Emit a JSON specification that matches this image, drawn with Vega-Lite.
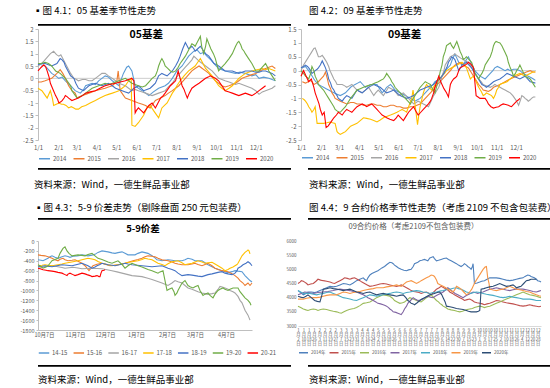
{
"$schema":"https://vega.github.io/schema/vega-lite/v6.json",
"padding":{"left":17,"top":5,"right":0,"bottom":0},
"background":"white",
"spacing":0,
"resolve":{"scale":{"x":"independent","y":"independent","color":"independent","strokeWidth":"independent"},"axis":{"x":"independent","y":"independent"},"legend":{"color":"independent"}},
"config":{"view":{"stroke":null},"font":"Noto Sans CJK SC","title":{"font":"Noto Sans CJK SC","color":"black","fontWeight":"normal"},"axis":{"labelFont":"Noto Sans CJK SC","labelOverlap":false,"labelFlush":false},"legend":{"labelFont":"Noto Sans CJK SC"}},
"datasets":{
"c1":[
{"s":"2014","d":0,"v":0.6},{"s":"2014","d":5,"v":0.55},{"s":"2014","d":11,"v":0.5},{"s":"2014","d":16,"v":0.35},{"s":"2014","d":21,"v":0.2},{"s":"2014","d":27,"v":0.1},{"s":"2014","d":32,"v":0},{"s":"2014","d":37,"v":0.05},{"s":"2014","d":42,"v":-0.1},{"s":"2014","d":50,"v":-0.3},{"s":"2014","d":57,"v":-0.5},{"s":"2014","d":65,"v":-0.6},{"s":"2014","d":70,"v":-0.45},{"s":"2014","d":73,"v":-0.3},{"s":"2014","d":83,"v":-0.2},{"s":"2014","d":88,"v":-0.25},{"s":"2014","d":93,"v":-0.1},{"s":"2014","d":98,"v":0},{"s":"2014","d":103,"v":0.1},{"s":"2014","d":108,"v":0.05},{"s":"2014","d":114,"v":-0.1},{"s":"2014","d":119,"v":-0.2},{"s":"2014","d":124,"v":-0.3},{"s":"2014","d":131,"v":0.2},{"s":"2014","d":136,"v":0.45},{"s":"2014","d":139,"v":0.5},{"s":"2014","d":144,"v":0.3},{"s":"2014","d":149,"v":-0.3},{"s":"2014","d":154,"v":-0.4},{"s":"2014","d":160,"v":-0.5},{"s":"2014","d":165,"v":-0.6},{"s":"2014","d":170,"v":-0.7},{"s":"2014","d":177,"v":-0.55},{"s":"2014","d":185,"v":-0.4},{"s":"2014","d":195,"v":-0.3},{"s":"2014","d":200,"v":-0.2},{"s":"2014","d":206,"v":0},{"s":"2014","d":213,"v":0.3},{"s":"2014","d":221,"v":0.5},{"s":"2014","d":226,"v":0.7},{"s":"2014","d":231,"v":0.9},{"s":"2014","d":239,"v":1.1},{"s":"2014","d":244,"v":1.15},{"s":"2014","d":249,"v":1.0},{"s":"2014","d":254,"v":1.05},{"s":"2014","d":259,"v":0.9},{"s":"2014","d":265,"v":0.75},{"s":"2014","d":270,"v":0.6},{"s":"2014","d":277,"v":0.4},{"s":"2014","d":282,"v":0.35},{"s":"2014","d":287,"v":0.3},{"s":"2014","d":295,"v":0.25},{"s":"2014","d":303,"v":0.2},{"s":"2014","d":310,"v":0.25},{"s":"2014","d":318,"v":0.2},{"s":"2014","d":328,"v":0.1},{"s":"2014","d":334,"v":0.15},{"s":"2014","d":339,"v":0},{"s":"2014","d":346,"v":0.05},{"s":"2014","d":354,"v":0},{"s":"2014","d":364,"v":-0.1},
{"s":"2015","d":0,"v":-0.15},{"s":"2015","d":5,"v":-0.15},{"s":"2015","d":11,"v":-0.1},{"s":"2015","d":16,"v":-0.05},{"s":"2015","d":21,"v":0},{"s":"2015","d":25,"v":0.1},{"s":"2015","d":29,"v":0.2},{"s":"2015","d":34,"v":0.35},{"s":"2015","d":38,"v":0.2},{"s":"2015","d":42,"v":0},{"s":"2015","d":47,"v":-0.3},{"s":"2015","d":52,"v":-0.5},{"s":"2015","d":57,"v":-0.6},{"s":"2015","d":60,"v":-0.8},{"s":"2015","d":64,"v":-0.75},{"s":"2015","d":68,"v":-0.7},{"s":"2015","d":73,"v":-0.65},{"s":"2015","d":78,"v":-0.6},{"s":"2015","d":83,"v":-0.55},{"s":"2015","d":88,"v":-0.5},{"s":"2015","d":95,"v":-0.45},{"s":"2015","d":103,"v":-0.4},{"s":"2015","d":108,"v":-0.35},{"s":"2015","d":114,"v":-0.3},{"s":"2015","d":118,"v":-0.2},{"s":"2015","d":121,"v":-0.1},{"s":"2015","d":123,"v":0.3},{"s":"2015","d":126,"v":-0.5},{"s":"2015","d":130,"v":-0.65},{"s":"2015","d":134,"v":-0.8},{"s":"2015","d":139,"v":-0.85},{"s":"2015","d":144,"v":-0.9},{"s":"2015","d":149,"v":-0.95},{"s":"2015","d":154,"v":-1.0},{"s":"2015","d":160,"v":-1.05},{"s":"2015","d":165,"v":-1.1},{"s":"2015","d":168,"v":-1.15},{"s":"2015","d":172,"v":-1.2},{"s":"2015","d":176,"v":-1.05},{"s":"2015","d":180,"v":-0.9},{"s":"2015","d":188,"v":-0.8},{"s":"2015","d":195,"v":-0.7},{"s":"2015","d":200,"v":-0.6},{"s":"2015","d":206,"v":-0.5},{"s":"2015","d":211,"v":-0.4},{"s":"2015","d":216,"v":-0.3},{"s":"2015","d":221,"v":-0.15},{"s":"2015","d":226,"v":0},{"s":"2015","d":231,"v":0.15},{"s":"2015","d":236,"v":0.3},{"s":"2015","d":241,"v":0.4},{"s":"2015","d":247,"v":0.5},{"s":"2015","d":252,"v":0.4},{"s":"2015","d":257,"v":0.3},{"s":"2015","d":262,"v":0.2},{"s":"2015","d":267,"v":0.05},{"s":"2015","d":272,"v":-0.1},{"s":"2015","d":277,"v":-0.2},{"s":"2015","d":282,"v":-0.3},{"s":"2015","d":287,"v":-0.35},{"s":"2015","d":293,"v":-0.3},{"s":"2015","d":298,"v":-0.25},{"s":"2015","d":303,"v":-0.2},{"s":"2015","d":308,"v":-0.1},{"s":"2015","d":313,"v":0},{"s":"2015","d":318,"v":0.05},{"s":"2015","d":323,"v":0.1},{"s":"2015","d":328,"v":0.15},{"s":"2015","d":334,"v":0.2},{"s":"2015","d":340,"v":0.3},{"s":"2015","d":349,"v":0.4},{"s":"2015","d":354,"v":0.45},{"s":"2015","d":359,"v":0.5},{"s":"2015","d":364,"v":0.4},
{"s":"2016","d":0,"v":0.5},{"s":"2016","d":5,"v":0.6},{"s":"2016","d":9,"v":0.7},{"s":"2016","d":14,"v":0.85},{"s":"2016","d":19,"v":1.0},{"s":"2016","d":24,"v":1.1},{"s":"2016","d":27,"v":1.0},{"s":"2016","d":29,"v":0.95},{"s":"2016","d":32,"v":0.9},{"s":"2016","d":35,"v":0.95},{"s":"2016","d":37,"v":0.85},{"s":"2016","d":42,"v":0.6},{"s":"2016","d":46,"v":0.4},{"s":"2016","d":50,"v":0.2},{"s":"2016","d":55,"v":0},{"s":"2016","d":59,"v":-0.05},{"s":"2016","d":62,"v":-0.1},{"s":"2016","d":68,"v":-0.05},{"s":"2016","d":73,"v":-0.05},{"s":"2016","d":78,"v":-0.1},{"s":"2016","d":83,"v":-0.1},{"s":"2016","d":88,"v":0},{"s":"2016","d":93,"v":0.1},{"s":"2016","d":98,"v":0.2},{"s":"2016","d":103,"v":0.2},{"s":"2016","d":108,"v":0.1},{"s":"2016","d":114,"v":0},{"s":"2016","d":119,"v":-0.1},{"s":"2016","d":124,"v":-0.2},{"s":"2016","d":129,"v":-0.25},{"s":"2016","d":134,"v":-0.3},{"s":"2016","d":139,"v":-0.4},{"s":"2016","d":144,"v":-0.5},{"s":"2016","d":149,"v":-0.45},{"s":"2016","d":154,"v":-0.5},{"s":"2016","d":160,"v":-0.55},{"s":"2016","d":165,"v":-0.6},{"s":"2016","d":170,"v":-0.65},{"s":"2016","d":175,"v":-0.7},{"s":"2016","d":180,"v":-0.65},{"s":"2016","d":185,"v":-0.6},{"s":"2016","d":190,"v":-0.55},{"s":"2016","d":195,"v":-0.5},{"s":"2016","d":200,"v":-0.35},{"s":"2016","d":206,"v":-0.2},{"s":"2016","d":211,"v":0},{"s":"2016","d":216,"v":0.15},{"s":"2016","d":221,"v":0.3},{"s":"2016","d":226,"v":0.45},{"s":"2016","d":231,"v":0.6},{"s":"2016","d":236,"v":0.75},{"s":"2016","d":239,"v":0.9},{"s":"2016","d":243,"v":0.8},{"s":"2016","d":247,"v":0.7},{"s":"2016","d":252,"v":0.6},{"s":"2016","d":257,"v":0.5},{"s":"2016","d":262,"v":0.4},{"s":"2016","d":267,"v":0.3},{"s":"2016","d":272,"v":0.15},{"s":"2016","d":277,"v":0},{"s":"2016","d":282,"v":-0.05},{"s":"2016","d":287,"v":-0.1},{"s":"2016","d":293,"v":-0.15},{"s":"2016","d":298,"v":-0.2},{"s":"2016","d":303,"v":-0.25},{"s":"2016","d":308,"v":-0.2},{"s":"2016","d":313,"v":-0.25},{"s":"2016","d":318,"v":-0.3},{"s":"2016","d":323,"v":-0.35},{"s":"2016","d":328,"v":-0.4},{"s":"2016","d":334,"v":-0.5},{"s":"2016","d":339,"v":-0.65},{"s":"2016","d":344,"v":-0.55},{"s":"2016","d":349,"v":-0.5},{"s":"2016","d":354,"v":-0.45},{"s":"2016","d":359,"v":-0.4},{"s":"2016","d":364,"v":-0.3},
{"s":"2017","d":0,"v":-0.4},{"s":"2017","d":6,"v":-0.5},{"s":"2017","d":10,"v":-0.65},{"s":"2017","d":14,"v":-0.8},{"s":"2017","d":19,"v":-0.5},{"s":"2017","d":22,"v":-0.8},{"s":"2017","d":24,"v":-1.1},{"s":"2017","d":28,"v":-1.05},{"s":"2017","d":32,"v":-1.0},{"s":"2017","d":36,"v":-1.05},{"s":"2017","d":39,"v":-1.05},{"s":"2017","d":43,"v":-1.1},{"s":"2017","d":47,"v":-1.2},{"s":"2017","d":51,"v":-1.15},{"s":"2017","d":55,"v":-1.2},{"s":"2017","d":58,"v":-1.25},{"s":"2017","d":62,"v":-1.25},{"s":"2017","d":67,"v":-1.15},{"s":"2017","d":73,"v":-1.1},{"s":"2017","d":80,"v":-1.0},{"s":"2017","d":88,"v":-0.9},{"s":"2017","d":95,"v":-0.8},{"s":"2017","d":103,"v":-0.7},{"s":"2017","d":108,"v":-0.65},{"s":"2017","d":114,"v":-0.6},{"s":"2017","d":119,"v":-0.55},{"s":"2017","d":124,"v":-0.5},{"s":"2017","d":129,"v":-0.4},{"s":"2017","d":134,"v":-0.3},{"s":"2017","d":139,"v":-0.1},{"s":"2017","d":143,"v":0},{"s":"2017","d":144,"v":-1.9},{"s":"2017","d":149,"v":-1.95},{"s":"2017","d":154,"v":-1.8},{"s":"2017","d":158,"v":-1.65},{"s":"2017","d":162,"v":-1.5},{"s":"2017","d":167,"v":-1.2},{"s":"2017","d":172,"v":-1.1},{"s":"2017","d":177,"v":-1.3},{"s":"2017","d":181,"v":-1.45},{"s":"2017","d":185,"v":-1.6},{"s":"2017","d":190,"v":-1.2},{"s":"2017","d":194,"v":-1.1},{"s":"2017","d":198,"v":-1.0},{"s":"2017","d":202,"v":-0.8},{"s":"2017","d":206,"v":-0.6},{"s":"2017","d":210,"v":-0.45},{"s":"2017","d":213,"v":-0.3},{"s":"2017","d":218,"v":-0.1},{"s":"2017","d":224,"v":0.1},{"s":"2017","d":231,"v":0.3},{"s":"2017","d":236,"v":0.4},{"s":"2017","d":241,"v":0.5},{"s":"2017","d":245,"v":0.65},{"s":"2017","d":249,"v":0.8},{"s":"2017","d":253,"v":0.6},{"s":"2017","d":257,"v":0.4},{"s":"2017","d":262,"v":0.25},{"s":"2017","d":267,"v":0.1},{"s":"2017","d":272,"v":-0.1},{"s":"2017","d":277,"v":-0.3},{"s":"2017","d":282,"v":-0.4},{"s":"2017","d":287,"v":-0.5},{"s":"2017","d":293,"v":-0.4},{"s":"2017","d":298,"v":-0.3},{"s":"2017","d":303,"v":-0.15},{"s":"2017","d":308,"v":0},{"s":"2017","d":313,"v":0.1},{"s":"2017","d":318,"v":0.2},{"s":"2017","d":323,"v":0.25},{"s":"2017","d":328,"v":0.3},{"s":"2017","d":336,"v":0.35},{"s":"2017","d":344,"v":0.4},{"s":"2017","d":349,"v":0.35},{"s":"2017","d":354,"v":0.4},{"s":"2017","d":359,"v":0.35},{"s":"2017","d":364,"v":0.3},
{"s":"2018","d":0,"v":0.55},{"s":"2018","d":5,"v":0.6},{"s":"2018","d":11,"v":0.6},{"s":"2018","d":16,"v":0.55},{"s":"2018","d":21,"v":0.5},{"s":"2018","d":25,"v":0.55},{"s":"2018","d":29,"v":0.6},{"s":"2018","d":34,"v":0.8},{"s":"2018","d":37,"v":0.75},{"s":"2018","d":40,"v":0.65},{"s":"2018","d":42,"v":0.5},{"s":"2018","d":46,"v":0.3},{"s":"2018","d":50,"v":0.1},{"s":"2018","d":55,"v":0},{"s":"2018","d":58,"v":-0.2},{"s":"2018","d":62,"v":-0.4},{"s":"2018","d":66,"v":-0.45},{"s":"2018","d":70,"v":-0.5},{"s":"2018","d":74,"v":-0.4},{"s":"2018","d":78,"v":-0.3},{"s":"2018","d":83,"v":-0.25},{"s":"2018","d":88,"v":-0.2},{"s":"2018","d":93,"v":-0.25},{"s":"2018","d":98,"v":-0.3},{"s":"2018","d":103,"v":-0.25},{"s":"2018","d":108,"v":-0.2},{"s":"2018","d":114,"v":-0.3},{"s":"2018","d":119,"v":-0.4},{"s":"2018","d":124,"v":-0.45},{"s":"2018","d":129,"v":-0.5},{"s":"2018","d":134,"v":-0.55},{"s":"2018","d":139,"v":-0.6},{"s":"2018","d":143,"v":-0.5},{"s":"2018","d":147,"v":-0.4},{"s":"2018","d":151,"v":-0.35},{"s":"2018","d":154,"v":-0.3},{"s":"2018","d":158,"v":-0.4},{"s":"2018","d":162,"v":-0.5},{"s":"2018","d":167,"v":-0.45},{"s":"2018","d":172,"v":-0.4},{"s":"2018","d":176,"v":-0.3},{"s":"2018","d":180,"v":-0.2},{"s":"2018","d":185,"v":0.1},{"s":"2018","d":190,"v":0.2},{"s":"2018","d":194,"v":0.15},{"s":"2018","d":198,"v":0.1},{"s":"2018","d":202,"v":0.2},{"s":"2018","d":206,"v":0.3},{"s":"2018","d":211,"v":0.5},{"s":"2018","d":215,"v":0.7},{"s":"2018","d":218,"v":0.9},{"s":"2018","d":222,"v":1.2},{"s":"2018","d":226,"v":1.45},{"s":"2018","d":229,"v":1.3},{"s":"2018","d":231,"v":1.2},{"s":"2018","d":234,"v":1.25},{"s":"2018","d":236,"v":1.3},{"s":"2018","d":239,"v":1.2},{"s":"2018","d":241,"v":1.1},{"s":"2018","d":245,"v":1.2},{"s":"2018","d":249,"v":1.3},{"s":"2018","d":253,"v":1.15},{"s":"2018","d":257,"v":1.0},{"s":"2018","d":262,"v":0.9},{"s":"2018","d":266,"v":0.75},{"s":"2018","d":270,"v":0.6},{"s":"2018","d":274,"v":0.55},{"s":"2018","d":277,"v":0.5},{"s":"2018","d":282,"v":0.4},{"s":"2018","d":287,"v":0.3},{"s":"2018","d":293,"v":0.3},{"s":"2018","d":298,"v":0.3},{"s":"2018","d":303,"v":0.25},{"s":"2018","d":308,"v":0.2},{"s":"2018","d":313,"v":0.25},{"s":"2018","d":318,"v":0.3},{"s":"2018","d":323,"v":0.3},{"s":"2018","d":328,"v":0.3},{"s":"2018","d":334,"v":0.25},{"s":"2018","d":339,"v":0.25},{"s":"2018","d":344,"v":0.3},{"s":"2018","d":349,"v":0.3},{"s":"2018","d":354,"v":0.25},{"s":"2018","d":359,"v":0.2},{"s":"2018","d":364,"v":0.1},
{"s":"2019","d":0,"v":0.6},{"s":"2019","d":5,"v":0.6},{"s":"2019","d":11,"v":0.65},{"s":"2019","d":16,"v":0.6},{"s":"2019","d":21,"v":0.5},{"s":"2019","d":24,"v":0.4},{"s":"2019","d":27,"v":0.3},{"s":"2019","d":31,"v":0.25},{"s":"2019","d":34,"v":0.2},{"s":"2019","d":38,"v":0.1},{"s":"2019","d":42,"v":0},{"s":"2019","d":46,"v":-0.15},{"s":"2019","d":50,"v":-0.3},{"s":"2019","d":52,"v":-0.5},{"s":"2019","d":56,"v":-0.65},{"s":"2019","d":60,"v":-0.8},{"s":"2019","d":64,"v":-0.75},{"s":"2019","d":68,"v":-0.7},{"s":"2019","d":73,"v":-0.6},{"s":"2019","d":78,"v":-0.5},{"s":"2019","d":83,"v":-0.4},{"s":"2019","d":88,"v":-0.35},{"s":"2019","d":93,"v":-0.3},{"s":"2019","d":98,"v":-0.25},{"s":"2019","d":103,"v":-0.2},{"s":"2019","d":108,"v":-0.25},{"s":"2019","d":114,"v":-0.2},{"s":"2019","d":119,"v":-0.15},{"s":"2019","d":124,"v":-0.1},{"s":"2019","d":129,"v":-0.05},{"s":"2019","d":134,"v":0},{"s":"2019","d":139,"v":-0.1},{"s":"2019","d":144,"v":-0.2},{"s":"2019","d":149,"v":-0.25},{"s":"2019","d":154,"v":-0.3},{"s":"2019","d":160,"v":-0.35},{"s":"2019","d":165,"v":-0.3},{"s":"2019","d":170,"v":-0.15},{"s":"2019","d":175,"v":0},{"s":"2019","d":180,"v":0.1},{"s":"2019","d":183,"v":0.3},{"s":"2019","d":185,"v":0.5},{"s":"2019","d":188,"v":0.7},{"s":"2019","d":190,"v":0.8},{"s":"2019","d":193,"v":0.65},{"s":"2019","d":195,"v":0.5},{"s":"2019","d":199,"v":0.4},{"s":"2019","d":203,"v":0.3},{"s":"2019","d":207,"v":0.25},{"s":"2019","d":211,"v":0.3},{"s":"2019","d":215,"v":0.45},{"s":"2019","d":218,"v":0.6},{"s":"2019","d":222,"v":0.75},{"s":"2019","d":226,"v":0.9},{"s":"2019","d":231,"v":1.15},{"s":"2019","d":236,"v":1.4},{"s":"2019","d":239,"v":1.35},{"s":"2019","d":241,"v":1.3},{"s":"2019","d":245,"v":1.5},{"s":"2019","d":249,"v":1.7},{"s":"2019","d":251,"v":1.3},{"s":"2019","d":254,"v":1.0},{"s":"2019","d":257,"v":1.3},{"s":"2019","d":259,"v":1.6},{"s":"2019","d":262,"v":1.4},{"s":"2019","d":265,"v":1.2},{"s":"2019","d":269,"v":1.0},{"s":"2019","d":272,"v":0.8},{"s":"2019","d":275,"v":0.5},{"s":"2019","d":277,"v":0.3},{"s":"2019","d":282,"v":0.45},{"s":"2019","d":287,"v":0.6},{"s":"2019","d":293,"v":0.8},{"s":"2019","d":298,"v":1.0},{"s":"2019","d":303,"v":1.3},{"s":"2019","d":306,"v":1.45},{"s":"2019","d":308,"v":1.5},{"s":"2019","d":311,"v":1.35},{"s":"2019","d":313,"v":1.2},{"s":"2019","d":316,"v":1.1},{"s":"2019","d":318,"v":1.0},{"s":"2019","d":323,"v":0.8},{"s":"2019","d":328,"v":0.6},{"s":"2019","d":331,"v":0.45},{"s":"2019","d":334,"v":0.3},{"s":"2019","d":339,"v":0.3},{"s":"2019","d":344,"v":0.45},{"s":"2019","d":349,"v":0.6},{"s":"2019","d":352,"v":0.45},{"s":"2019","d":354,"v":0.3},{"s":"2019","d":359,"v":0.1},{"s":"2019","d":364,"v":-0.1},
{"s":"2020","d":0,"v":0.3},{"s":"2020","d":5,"v":0.45},{"s":"2020","d":9,"v":0.55},{"s":"2020","d":12,"v":0.45},{"s":"2020","d":14,"v":0.3},{"s":"2020","d":17,"v":0.05},{"s":"2020","d":19,"v":-0.2},{"s":"2020","d":23,"v":-0.45},{"s":"2020","d":27,"v":-0.7},{"s":"2020","d":30,"v":-0.85},{"s":"2020","d":32,"v":-1.0},{"s":"2020","d":35,"v":-0.95},{"s":"2020","d":37,"v":-0.9},{"s":"2020","d":40,"v":-0.8},{"s":"2020","d":42,"v":-0.7},{"s":"2020","d":45,"v":-0.75},{"s":"2020","d":47,"v":-0.8},{"s":"2020","d":52,"v":-0.9},{"s":"2020","d":57,"v":-0.85},{"s":"2020","d":62,"v":-0.8},{"s":"2020","d":68,"v":-0.7},{"s":"2020","d":73,"v":-0.6},{"s":"2020","d":80,"v":-0.55},{"s":"2020","d":88,"v":-0.5},{"s":"2020","d":95,"v":-0.4},{"s":"2020","d":103,"v":-0.3},{"s":"2020","d":110,"v":-0.25},{"s":"2020","d":119,"v":-0.2},{"s":"2020","d":126,"v":-0.15},{"s":"2020","d":134,"v":-0.1},{"s":"2020","d":139,"v":-0.05},{"s":"2020","d":144,"v":0},{"s":"2020","d":147,"v":-0.1},{"s":"2020","d":149,"v":-1.4},{"s":"2020","d":151,"v":-1.3},{"s":"2020","d":154,"v":-1.2},{"s":"2020","d":158,"v":-1.3},{"s":"2020","d":162,"v":-1.4},{"s":"2020","d":166,"v":-1.25},{"s":"2020","d":170,"v":-1.1},{"s":"2020","d":175,"v":-1.0},{"s":"2020","d":180,"v":-1.2},{"s":"2020","d":184,"v":-1.0},{"s":"2020","d":188,"v":-0.8},{"s":"2020","d":192,"v":-0.7},{"s":"2020","d":195,"v":-0.6},{"s":"2020","d":199,"v":-0.45},{"s":"2020","d":203,"v":-0.3},{"s":"2020","d":207,"v":-0.2},{"s":"2020","d":211,"v":-0.1},{"s":"2020","d":215,"v":0.3},{"s":"2020","d":218,"v":0},{"s":"2020","d":221,"v":-0.3},{"s":"2020","d":224,"v":-0.45},{"s":"2020","d":226,"v":-0.6},{"s":"2020","d":229,"v":-0.8},{"s":"2020","d":232,"v":-0.6},{"s":"2020","d":236,"v":-0.4},{"s":"2020","d":241,"v":-0.3},{"s":"2020","d":247,"v":-0.2},{"s":"2020","d":252,"v":-0.1},{"s":"2020","d":257,"v":0},{"s":"2020","d":261,"v":0.05},{"s":"2020","d":264,"v":0.1},{"s":"2020","d":268,"v":0.05},{"s":"2020","d":272,"v":0},{"s":"2020","d":277,"v":-0.1},{"s":"2020","d":282,"v":-0.3},{"s":"2020","d":287,"v":-0.5},{"s":"2020","d":293,"v":-0.55},{"s":"2020","d":298,"v":-0.6},{"s":"2020","d":303,"v":-0.65},{"s":"2020","d":308,"v":-0.7},{"s":"2020","d":313,"v":-0.65},{"s":"2020","d":318,"v":-0.6},{"s":"2020","d":323,"v":-0.65},{"s":"2020","d":328,"v":-0.7},{"s":"2020","d":334,"v":-0.6},{"s":"2020","d":339,"v":-0.5},{"s":"2020","d":344,"v":-0.4},{"s":"2020","d":349,"v":-0.3}
],
"c2":[
{"s":"2014","d":0,"v":0.1},{"s":"2014","d":4,"v":0.12},{"s":"2014","d":7,"v":0.15},{"s":"2014","d":10,"v":0.05},{"s":"2014","d":12,"v":0},{"s":"2014","d":16,"v":-0.15},{"s":"2014","d":20,"v":-0.3},{"s":"2014","d":23,"v":-0.4},{"s":"2014","d":27,"v":-0.5},{"s":"2014","d":31,"v":-0.55},{"s":"2014","d":35,"v":-0.6},{"s":"2014","d":39,"v":-0.65},{"s":"2014","d":43,"v":-0.7},{"s":"2014","d":47,"v":-0.75},{"s":"2014","d":51,"v":-0.8},{"s":"2014","d":56,"v":-0.85},{"s":"2014","d":61,"v":-0.9},{"s":"2014","d":65,"v":-0.85},{"s":"2014","d":69,"v":-0.8},{"s":"2014","d":73,"v":-0.7},{"s":"2014","d":77,"v":-0.6},{"s":"2014","d":80,"v":-0.55},{"s":"2014","d":84,"v":-0.5},{"s":"2014","d":88,"v":-0.45},{"s":"2014","d":92,"v":-0.4},{"s":"2014","d":96,"v":-0.5},{"s":"2014","d":100,"v":-0.6},{"s":"2014","d":104,"v":-0.55},{"s":"2014","d":108,"v":-0.5},{"s":"2014","d":113,"v":-0.5},{"s":"2014","d":118,"v":-0.5},{"s":"2014","d":122,"v":-0.65},{"s":"2014","d":126,"v":-0.8},{"s":"2014","d":130,"v":-0.7},{"s":"2014","d":133,"v":-0.6},{"s":"2014","d":136,"v":-0.55},{"s":"2014","d":139,"v":-0.5},{"s":"2014","d":143,"v":-0.6},{"s":"2014","d":146,"v":-0.7},{"s":"2014","d":150,"v":-0.75},{"s":"2014","d":154,"v":-0.8},{"s":"2014","d":158,"v":-0.85},{"s":"2014","d":162,"v":-0.9},{"s":"2014","d":166,"v":-0.95},{"s":"2014","d":170,"v":-1.0},{"s":"2014","d":174,"v":-1.05},{"s":"2014","d":177,"v":-1.1},{"s":"2014","d":181,"v":-1.05},{"s":"2014","d":185,"v":-1.0},{"s":"2014","d":189,"v":-0.9},{"s":"2014","d":193,"v":-0.8},{"s":"2014","d":197,"v":-0.7},{"s":"2014","d":201,"v":-0.6},{"s":"2014","d":205,"v":-0.5},{"s":"2014","d":208,"v":-0.4},{"s":"2014","d":212,"v":-0.35},{"s":"2014","d":216,"v":-0.3},{"s":"2014","d":220,"v":-0.15},{"s":"2014","d":224,"v":0},{"s":"2014","d":228,"v":0.1},{"s":"2014","d":232,"v":0.2},{"s":"2014","d":235,"v":0.4},{"s":"2014","d":237,"v":0.5},{"s":"2014","d":239,"v":0.6},{"s":"2014","d":242,"v":0.45},{"s":"2014","d":245,"v":0.3},{"s":"2014","d":248,"v":0.25},{"s":"2014","d":250,"v":0.2},{"s":"2014","d":254,"v":0.3},{"s":"2014","d":257,"v":0.4},{"s":"2014","d":260,"v":0.5},{"s":"2014","d":263,"v":0.35},{"s":"2014","d":265,"v":0.2},{"s":"2014","d":268,"v":0.1},{"s":"2014","d":270,"v":0},{"s":"2014","d":274,"v":-0.1},{"s":"2014","d":278,"v":-0.2},{"s":"2014","d":282,"v":-0.25},{"s":"2014","d":286,"v":-0.3},{"s":"2014","d":290,"v":-0.2},{"s":"2014","d":294,"v":-0.1},{"s":"2014","d":298,"v":0},{"s":"2014","d":301,"v":0.1},{"s":"2014","d":305,"v":0.15},{"s":"2014","d":309,"v":0.1},{"s":"2014","d":313,"v":0.05},{"s":"2014","d":317,"v":0},{"s":"2014","d":321,"v":0.05},{"s":"2014","d":325,"v":0},{"s":"2014","d":330,"v":0.05},{"s":"2014","d":335,"v":0.05},{"s":"2014","d":340,"v":0},{"s":"2014","d":345,"v":-0.1},{"s":"2014","d":349,"v":-0.15},{"s":"2014","d":353,"v":-0.2},{"s":"2014","d":357,"v":-0.25},{"s":"2014","d":361,"v":-0.3},{"s":"2014","d":364,"v":-0.35},
{"s":"2015","d":2,"v":-0.4},{"s":"2015","d":7,"v":-0.45},{"s":"2015","d":11,"v":-0.4},{"s":"2015","d":14,"v":-0.35},{"s":"2015","d":17,"v":-0.4},{"s":"2015","d":20,"v":-0.5},{"s":"2015","d":24,"v":-0.45},{"s":"2015","d":27,"v":-0.4},{"s":"2015","d":31,"v":-0.3},{"s":"2015","d":35,"v":-0.2},{"s":"2015","d":38,"v":-0.05},{"s":"2015","d":41,"v":-0.3},{"s":"2015","d":43,"v":-0.5},{"s":"2015","d":46,"v":-0.65},{"s":"2015","d":48,"v":-0.8},{"s":"2015","d":51,"v":-0.9},{"s":"2015","d":53,"v":-1.0},{"s":"2015","d":57,"v":-1.05},{"s":"2015","d":61,"v":-1.1},{"s":"2015","d":66,"v":-1.15},{"s":"2015","d":71,"v":-1.2},{"s":"2015","d":77,"v":-1.15},{"s":"2015","d":82,"v":-1.15},{"s":"2015","d":87,"v":-1.2},{"s":"2015","d":92,"v":-1.2},{"s":"2015","d":97,"v":-1.25},{"s":"2015","d":102,"v":-1.25},{"s":"2015","d":108,"v":-1.2},{"s":"2015","d":113,"v":-1.2},{"s":"2015","d":118,"v":-1.25},{"s":"2015","d":123,"v":-1.25},{"s":"2015","d":128,"v":-1.3},{"s":"2015","d":133,"v":-1.3},{"s":"2015","d":139,"v":-1.25},{"s":"2015","d":144,"v":-1.25},{"s":"2015","d":149,"v":-1.3},{"s":"2015","d":154,"v":-1.3},{"s":"2015","d":159,"v":-1.35},{"s":"2015","d":164,"v":-1.35},{"s":"2015","d":170,"v":-1.3},{"s":"2015","d":175,"v":-1.3},{"s":"2015","d":180,"v":-1.25},{"s":"2015","d":185,"v":-1.2},{"s":"2015","d":189,"v":-1.1},{"s":"2015","d":193,"v":-1.0},{"s":"2015","d":197,"v":-0.9},{"s":"2015","d":201,"v":-0.8},{"s":"2015","d":205,"v":-0.7},{"s":"2015","d":208,"v":-0.6},{"s":"2015","d":212,"v":-0.5},{"s":"2015","d":216,"v":-0.4},{"s":"2015","d":220,"v":-0.3},{"s":"2015","d":224,"v":-0.2},{"s":"2015","d":228,"v":-0.1},{"s":"2015","d":232,"v":0},{"s":"2015","d":235,"v":0.1},{"s":"2015","d":239,"v":0.2},{"s":"2015","d":243,"v":0.25},{"s":"2015","d":247,"v":0.3},{"s":"2015","d":250,"v":0.25},{"s":"2015","d":252,"v":0.2},{"s":"2015","d":256,"v":0.15},{"s":"2015","d":260,"v":0.1},{"s":"2015","d":264,"v":-0.05},{"s":"2015","d":268,"v":-0.2},{"s":"2015","d":272,"v":-0.35},{"s":"2015","d":276,"v":-0.5},{"s":"2015","d":280,"v":-0.6},{"s":"2015","d":283,"v":-0.7},{"s":"2015","d":287,"v":-0.72},{"s":"2015","d":291,"v":-0.75},{"s":"2015","d":295,"v":-0.7},{"s":"2015","d":299,"v":-0.6},{"s":"2015","d":304,"v":-0.55},{"s":"2015","d":309,"v":-0.5},{"s":"2015","d":313,"v":-0.45},{"s":"2015","d":317,"v":-0.4},{"s":"2015","d":321,"v":-0.35},{"s":"2015","d":325,"v":-0.3},{"s":"2015","d":330,"v":-0.25},{"s":"2015","d":335,"v":-0.2},{"s":"2015","d":340,"v":-0.15},{"s":"2015","d":345,"v":-0.1},{"s":"2015","d":350,"v":-0.05},{"s":"2015","d":356,"v":0},{"s":"2015","d":360,"v":-0.05},{"s":"2015","d":364,"v":-0.05},
{"s":"2016","d":0,"v":0},{"s":"2016","d":4,"v":0.2},{"s":"2016","d":8,"v":0.35},{"s":"2016","d":12,"v":0.5},{"s":"2016","d":16,"v":0.65},{"s":"2016","d":20,"v":0.8},{"s":"2016","d":22,"v":0.82},{"s":"2016","d":24,"v":0.7},{"s":"2016","d":27,"v":0.5},{"s":"2016","d":30,"v":0.5},{"s":"2016","d":33,"v":0.55},{"s":"2016","d":36,"v":0.45},{"s":"2016","d":40,"v":0.3},{"s":"2016","d":43,"v":0.15},{"s":"2016","d":45,"v":0},{"s":"2016","d":48,"v":-0.15},{"s":"2016","d":51,"v":-0.3},{"s":"2016","d":54,"v":-0.4},{"s":"2016","d":56,"v":-0.5},{"s":"2016","d":60,"v":-0.5},{"s":"2016","d":64,"v":-0.5},{"s":"2016","d":68,"v":-0.55},{"s":"2016","d":71,"v":-0.6},{"s":"2016","d":75,"v":-0.55},{"s":"2016","d":79,"v":-0.5},{"s":"2016","d":83,"v":-0.6},{"s":"2016","d":87,"v":-0.7},{"s":"2016","d":91,"v":-0.75},{"s":"2016","d":95,"v":-0.8},{"s":"2016","d":100,"v":-0.7},{"s":"2016","d":105,"v":-0.6},{"s":"2016","d":109,"v":-0.75},{"s":"2016","d":113,"v":-0.9},{"s":"2016","d":116,"v":-0.8},{"s":"2016","d":120,"v":-0.7},{"s":"2016","d":124,"v":-0.8},{"s":"2016","d":128,"v":-0.9},{"s":"2016","d":132,"v":-0.75},{"s":"2016","d":136,"v":-0.6},{"s":"2016","d":140,"v":-0.65},{"s":"2016","d":144,"v":-0.7},{"s":"2016","d":148,"v":-0.8},{"s":"2016","d":151,"v":-0.9},{"s":"2016","d":155,"v":-0.85},{"s":"2016","d":159,"v":-0.8},{"s":"2016","d":163,"v":-0.9},{"s":"2016","d":167,"v":-1.0},{"s":"2016","d":171,"v":-1.1},{"s":"2016","d":175,"v":-1.2},{"s":"2016","d":179,"v":-1.15},{"s":"2016","d":182,"v":-1.1},{"s":"2016","d":186,"v":-1.15},{"s":"2016","d":190,"v":-1.2},{"s":"2016","d":194,"v":-1.25},{"s":"2016","d":198,"v":-1.3},{"s":"2016","d":202,"v":-1.1},{"s":"2016","d":206,"v":-0.9},{"s":"2016","d":210,"v":-0.75},{"s":"2016","d":214,"v":-0.6},{"s":"2016","d":217,"v":-0.4},{"s":"2016","d":219,"v":-0.2},{"s":"2016","d":222,"v":0},{"s":"2016","d":224,"v":0.2},{"s":"2016","d":228,"v":0.35},{"s":"2016","d":232,"v":0.5},{"s":"2016","d":236,"v":0.55},{"s":"2016","d":239,"v":0.6},{"s":"2016","d":242,"v":0.55},{"s":"2016","d":245,"v":0.5},{"s":"2016","d":248,"v":0.45},{"s":"2016","d":252,"v":0.4},{"s":"2016","d":256,"v":0.35},{"s":"2016","d":260,"v":0.3},{"s":"2016","d":264,"v":0.15},{"s":"2016","d":268,"v":0},{"s":"2016","d":272,"v":-0.15},{"s":"2016","d":276,"v":-0.3},{"s":"2016","d":280,"v":-0.4},{"s":"2016","d":283,"v":-0.5},{"s":"2016","d":288,"v":-0.55},{"s":"2016","d":294,"v":-0.6},{"s":"2016","d":298,"v":-0.55},{"s":"2016","d":301,"v":-0.5},{"s":"2016","d":305,"v":-0.55},{"s":"2016","d":309,"v":-0.6},{"s":"2016","d":313,"v":-0.65},{"s":"2016","d":317,"v":-0.7},{"s":"2016","d":321,"v":-0.75},{"s":"2016","d":325,"v":-0.8},{"s":"2016","d":329,"v":-0.9},{"s":"2016","d":332,"v":-1.0},{"s":"2016","d":335,"v":-1.1},{"s":"2016","d":338,"v":-1.25},{"s":"2016","d":341,"v":-1.05},{"s":"2016","d":343,"v":-0.9},{"s":"2016","d":346,"v":-0.95},{"s":"2016","d":348,"v":-1.0},{"s":"2016","d":351,"v":-1.05},{"s":"2016","d":353,"v":-1.1},{"s":"2016","d":356,"v":-1.05},{"s":"2016","d":358,"v":-1.0},{"s":"2016","d":361,"v":-0.95},{"s":"2016","d":364,"v":-0.95},
{"s":"2017","d":2,"v":-1.0},{"s":"2017","d":5,"v":-1.05},{"s":"2017","d":7,"v":-1.1},{"s":"2017","d":10,"v":-1.2},{"s":"2017","d":12,"v":-1.3},{"s":"2017","d":15,"v":-1.4},{"s":"2017","d":17,"v":-1.5},{"s":"2017","d":20,"v":-1.4},{"s":"2017","d":22,"v":-1.3},{"s":"2017","d":25,"v":-1.9},{"s":"2017","d":30,"v":-1.9},{"s":"2017","d":35,"v":-1.9},{"s":"2017","d":40,"v":-1.88},{"s":"2017","d":45,"v":-1.85},{"s":"2017","d":49,"v":-1.88},{"s":"2017","d":53,"v":-1.9},{"s":"2017","d":56,"v":-2.2},{"s":"2017","d":58,"v":-2.25},{"s":"2017","d":61,"v":-2.3},{"s":"2017","d":65,"v":-2.25},{"s":"2017","d":69,"v":-2.2},{"s":"2017","d":73,"v":-2.1},{"s":"2017","d":77,"v":-2.0},{"s":"2017","d":82,"v":-1.95},{"s":"2017","d":87,"v":-1.9},{"s":"2017","d":92,"v":-1.8},{"s":"2017","d":97,"v":-1.7},{"s":"2017","d":102,"v":-1.72},{"s":"2017","d":108,"v":-1.75},{"s":"2017","d":113,"v":-1.8},{"s":"2017","d":118,"v":-1.85},{"s":"2017","d":123,"v":-1.78},{"s":"2017","d":128,"v":-1.7},{"s":"2017","d":133,"v":-1.65},{"s":"2017","d":139,"v":-1.6},{"s":"2017","d":144,"v":-1.55},{"s":"2017","d":149,"v":-1.5},{"s":"2017","d":153,"v":-1.45},{"s":"2017","d":157,"v":-1.4},{"s":"2017","d":161,"v":-1.45},{"s":"2017","d":164,"v":-1.5},{"s":"2017","d":168,"v":-1.25},{"s":"2017","d":172,"v":-1.0},{"s":"2017","d":174,"v":-0.7},{"s":"2017","d":177,"v":-1.2},{"s":"2017","d":181,"v":-1.95},{"s":"2017","d":183,"v":-1.6},{"s":"2017","d":185,"v":-1.3},{"s":"2017","d":188,"v":-1.0},{"s":"2017","d":190,"v":-0.8},{"s":"2017","d":193,"v":-0.6},{"s":"2017","d":195,"v":-0.5},{"s":"2017","d":199,"v":-0.6},{"s":"2017","d":203,"v":-0.7},{"s":"2017","d":207,"v":-0.55},{"s":"2017","d":211,"v":-0.4},{"s":"2017","d":215,"v":-0.3},{"s":"2017","d":219,"v":-0.2},{"s":"2017","d":223,"v":-0.1},{"s":"2017","d":226,"v":0},{"s":"2017","d":230,"v":0.05},{"s":"2017","d":234,"v":0.1},{"s":"2017","d":238,"v":0.15},{"s":"2017","d":242,"v":0.2},{"s":"2017","d":246,"v":0.25},{"s":"2017","d":250,"v":0.3},{"s":"2017","d":254,"v":0.2},{"s":"2017","d":257,"v":0.1},{"s":"2017","d":260,"v":-0.1},{"s":"2017","d":263,"v":-0.3},{"s":"2017","d":265,"v":-0.25},{"s":"2017","d":268,"v":-0.2},{"s":"2017","d":272,"v":-0.4},{"s":"2017","d":276,"v":-0.6},{"s":"2017","d":280,"v":-0.75},{"s":"2017","d":283,"v":-0.9},{"s":"2017","d":286,"v":-0.85},{"s":"2017","d":288,"v":-0.8},{"s":"2017","d":292,"v":-0.85},{"s":"2017","d":296,"v":-0.9},{"s":"2017","d":299,"v":-1.0},{"s":"2017","d":302,"v":-0.85},{"s":"2017","d":304,"v":-0.7},{"s":"2017","d":307,"v":-0.6},{"s":"2017","d":309,"v":-0.5},{"s":"2017","d":314,"v":-0.45},{"s":"2017","d":320,"v":-0.4},{"s":"2017","d":325,"v":-0.3},{"s":"2017","d":330,"v":-0.2},{"s":"2017","d":335,"v":-0.15},{"s":"2017","d":340,"v":-0.1},{"s":"2017","d":344,"v":-0.15},{"s":"2017","d":348,"v":-0.2},{"s":"2017","d":352,"v":-0.15},{"s":"2017","d":356,"v":-0.1},{"s":"2017","d":360,"v":-0.05},{"s":"2017","d":364,"v":-0.05},
{"s":"2018","d":0,"v":0.1},{"s":"2018","d":4,"v":0.15},{"s":"2018","d":7,"v":0.2},{"s":"2018","d":10,"v":0.15},{"s":"2018","d":12,"v":0.1},{"s":"2018","d":15,"v":0},{"s":"2018","d":17,"v":-0.1},{"s":"2018","d":20,"v":-0.05},{"s":"2018","d":22,"v":0},{"s":"2018","d":25,"v":0.05},{"s":"2018","d":27,"v":0.1},{"s":"2018","d":30,"v":0.2},{"s":"2018","d":33,"v":0.35},{"s":"2018","d":36,"v":0.2},{"s":"2018","d":38,"v":0.1},{"s":"2018","d":41,"v":-0.1},{"s":"2018","d":43,"v":-0.3},{"s":"2018","d":46,"v":-0.45},{"s":"2018","d":48,"v":-0.6},{"s":"2018","d":51,"v":-0.7},{"s":"2018","d":53,"v":-0.8},{"s":"2018","d":56,"v":-0.9},{"s":"2018","d":58,"v":-1.0},{"s":"2018","d":61,"v":-1.05},{"s":"2018","d":64,"v":-1.1},{"s":"2018","d":67,"v":-1.0},{"s":"2018","d":71,"v":-0.9},{"s":"2018","d":75,"v":-0.95},{"s":"2018","d":79,"v":-1.0},{"s":"2018","d":83,"v":-0.85},{"s":"2018","d":87,"v":-0.7},{"s":"2018","d":91,"v":-0.75},{"s":"2018","d":95,"v":-0.8},{"s":"2018","d":100,"v":-0.7},{"s":"2018","d":105,"v":-0.6},{"s":"2018","d":109,"v":-0.55},{"s":"2018","d":113,"v":-0.5},{"s":"2018","d":118,"v":-0.55},{"s":"2018","d":123,"v":-0.6},{"s":"2018","d":128,"v":-0.7},{"s":"2018","d":133,"v":-0.8},{"s":"2018","d":139,"v":-0.75},{"s":"2018","d":144,"v":-0.7},{"s":"2018","d":149,"v":-0.8},{"s":"2018","d":154,"v":-0.9},{"s":"2018","d":159,"v":-0.95},{"s":"2018","d":164,"v":-1.0},{"s":"2018","d":170,"v":-0.95},{"s":"2018","d":175,"v":-0.9},{"s":"2018","d":180,"v":-0.8},{"s":"2018","d":185,"v":-0.7},{"s":"2018","d":190,"v":-0.65},{"s":"2018","d":195,"v":-0.6},{"s":"2018","d":201,"v":-0.55},{"s":"2018","d":206,"v":-0.5},{"s":"2018","d":210,"v":-0.4},{"s":"2018","d":214,"v":-0.3},{"s":"2018","d":217,"v":-0.25},{"s":"2018","d":219,"v":-0.2},{"s":"2018","d":222,"v":-0.1},{"s":"2018","d":224,"v":0},{"s":"2018","d":227,"v":0.15},{"s":"2018","d":229,"v":0.3},{"s":"2018","d":232,"v":0.4},{"s":"2018","d":234,"v":0.5},{"s":"2018","d":237,"v":0.45},{"s":"2018","d":239,"v":0.4},{"s":"2018","d":242,"v":0.2},{"s":"2018","d":245,"v":0},{"s":"2018","d":248,"v":0.1},{"s":"2018","d":250,"v":0.2},{"s":"2018","d":254,"v":0.25},{"s":"2018","d":257,"v":0.3},{"s":"2018","d":261,"v":0.2},{"s":"2018","d":265,"v":0.1},{"s":"2018","d":269,"v":-0.05},{"s":"2018","d":273,"v":-0.2},{"s":"2018","d":277,"v":-0.35},{"s":"2018","d":281,"v":-0.5},{"s":"2018","d":285,"v":-0.55},{"s":"2018","d":288,"v":-0.6},{"s":"2018","d":294,"v":-0.5},{"s":"2018","d":299,"v":-0.4},{"s":"2018","d":304,"v":-0.35},{"s":"2018","d":309,"v":-0.3},{"s":"2018","d":315,"v":-0.2},{"s":"2018","d":320,"v":-0.1},{"s":"2018","d":325,"v":-0.15},{"s":"2018","d":330,"v":-0.2},{"s":"2018","d":335,"v":-0.25},{"s":"2018","d":340,"v":-0.3},{"s":"2018","d":344,"v":-0.25},{"s":"2018","d":348,"v":-0.2},{"s":"2018","d":352,"v":-0.3},{"s":"2018","d":356,"v":-0.4},{"s":"2018","d":360,"v":-0.42},{"s":"2018","d":364,"v":-0.45},
{"s":"2019","d":0,"v":0},{"s":"2019","d":4,"v":-0.1},{"s":"2019","d":7,"v":-0.2},{"s":"2019","d":10,"v":-0.25},{"s":"2019","d":12,"v":-0.3},{"s":"2019","d":15,"v":-0.1},{"s":"2019","d":17,"v":0.15},{"s":"2019","d":20,"v":0},{"s":"2019","d":22,"v":-0.2},{"s":"2019","d":25,"v":-0.35},{"s":"2019","d":27,"v":-0.5},{"s":"2019","d":31,"v":-0.6},{"s":"2019","d":35,"v":-0.7},{"s":"2019","d":39,"v":-0.85},{"s":"2019","d":43,"v":-1.0},{"s":"2019","d":47,"v":-1.15},{"s":"2019","d":51,"v":-1.3},{"s":"2019","d":53,"v":-1.4},{"s":"2019","d":56,"v":-1.45},{"s":"2019","d":58,"v":-1.48},{"s":"2019","d":61,"v":-1.5},{"s":"2019","d":65,"v":-1.4},{"s":"2019","d":69,"v":-1.3},{"s":"2019","d":73,"v":-1.15},{"s":"2019","d":77,"v":-1.0},{"s":"2019","d":82,"v":-0.85},{"s":"2019","d":87,"v":-0.7},{"s":"2019","d":92,"v":-0.65},{"s":"2019","d":97,"v":-0.6},{"s":"2019","d":103,"v":-0.55},{"s":"2019","d":110,"v":-0.5},{"s":"2019","d":115,"v":-0.45},{"s":"2019","d":120,"v":-0.4},{"s":"2019","d":124,"v":-0.35},{"s":"2019","d":128,"v":-0.3},{"s":"2019","d":131,"v":-0.2},{"s":"2019","d":133,"v":-0.1},{"s":"2019","d":136,"v":-0.2},{"s":"2019","d":139,"v":-0.3},{"s":"2019","d":141,"v":-0.4},{"s":"2019","d":144,"v":-0.5},{"s":"2019","d":146,"v":-0.6},{"s":"2019","d":150,"v":-0.7},{"s":"2019","d":154,"v":-0.8},{"s":"2019","d":158,"v":-0.9},{"s":"2019","d":162,"v":-1.0},{"s":"2019","d":166,"v":-1.1},{"s":"2019","d":170,"v":-1.2},{"s":"2019","d":173,"v":-1.05},{"s":"2019","d":177,"v":-0.9},{"s":"2019","d":181,"v":-0.75},{"s":"2019","d":185,"v":-0.6},{"s":"2019","d":189,"v":-0.5},{"s":"2019","d":193,"v":-0.4},{"s":"2019","d":197,"v":-0.45},{"s":"2019","d":201,"v":-0.5},{"s":"2019","d":204,"v":-0.65},{"s":"2019","d":208,"v":-0.8},{"s":"2019","d":211,"v":-0.55},{"s":"2019","d":214,"v":-0.3},{"s":"2019","d":216,"v":-0.05},{"s":"2019","d":219,"v":0.2},{"s":"2019","d":221,"v":0.5},{"s":"2019","d":224,"v":0.7},{"s":"2019","d":226,"v":0.9},{"s":"2019","d":229,"v":0.95},{"s":"2019","d":232,"v":1.0},{"s":"2019","d":234,"v":0.9},{"s":"2019","d":237,"v":0.8},{"s":"2019","d":240,"v":0.95},{"s":"2019","d":242,"v":1.05},{"s":"2019","d":245,"v":0.85},{"s":"2019","d":247,"v":0.7},{"s":"2019","d":250,"v":0.55},{"s":"2019","d":252,"v":0.4},{"s":"2019","d":255,"v":0.45},{"s":"2019","d":257,"v":0.5},{"s":"2019","d":261,"v":0.4},{"s":"2019","d":265,"v":0.3},{"s":"2019","d":268,"v":0.1},{"s":"2019","d":270,"v":-0.1},{"s":"2019","d":273,"v":-0.2},{"s":"2019","d":276,"v":-0.3},{"s":"2019","d":278,"v":-0.2},{"s":"2019","d":281,"v":-0.1},{"s":"2019","d":284,"v":0.05},{"s":"2019","d":286,"v":0.2},{"s":"2019","d":290,"v":0.35},{"s":"2019","d":294,"v":0.5},{"s":"2019","d":297,"v":0.7},{"s":"2019","d":299,"v":0.9},{"s":"2019","d":301,"v":1.0},{"s":"2019","d":303,"v":1.05},{"s":"2019","d":306,"v":1.02},{"s":"2019","d":309,"v":1.0},{"s":"2019","d":312,"v":0.9},{"s":"2019","d":314,"v":0.8},{"s":"2019","d":317,"v":0.65},{"s":"2019","d":320,"v":0.5},{"s":"2019","d":322,"v":0.3},{"s":"2019","d":325,"v":0.1},{"s":"2019","d":328,"v":-0.05},{"s":"2019","d":330,"v":-0.2},{"s":"2019","d":333,"v":-0.1},{"s":"2019","d":335,"v":0},{"s":"2019","d":338,"v":0.1},{"s":"2019","d":340,"v":0.2},{"s":"2019","d":344,"v":0},{"s":"2019","d":348,"v":-0.2},{"s":"2019","d":352,"v":-0.25},{"s":"2019","d":356,"v":-0.3},{"s":"2019","d":360,"v":-0.45},{"s":"2019","d":364,"v":-0.6},
{"s":"2020","d":0,"v":-0.2},{"s":"2020","d":4,"v":0},{"s":"2020","d":8,"v":-0.2},{"s":"2020","d":12,"v":-0.4},{"s":"2020","d":16,"v":-0.3},{"s":"2020","d":20,"v":-0.6},{"s":"2020","d":22,"v":-0.8},{"s":"2020","d":25,"v":-1.0},{"s":"2020","d":28,"v":-1.2},{"s":"2020","d":30,"v":-1.4},{"s":"2020","d":33,"v":-1.6},{"s":"2020","d":36,"v":-1.5},{"s":"2020","d":39,"v":-2.05},{"s":"2020","d":42,"v":-2.0},{"s":"2020","d":45,"v":-1.9},{"s":"2020","d":48,"v":-1.8},{"s":"2020","d":51,"v":-1.7},{"s":"2020","d":55,"v":-1.6},{"s":"2020","d":58,"v":-1.5},{"s":"2020","d":61,"v":-1.55},{"s":"2020","d":64,"v":-1.6},{"s":"2020","d":67,"v":-1.5},{"s":"2020","d":71,"v":-1.4},{"s":"2020","d":75,"v":-1.45},{"s":"2020","d":79,"v":-1.5},{"s":"2020","d":83,"v":-1.4},{"s":"2020","d":87,"v":-1.3},{"s":"2020","d":91,"v":-1.25},{"s":"2020","d":95,"v":-1.2},{"s":"2020","d":99,"v":-1.25},{"s":"2020","d":102,"v":-1.3},{"s":"2020","d":106,"v":-1.25},{"s":"2020","d":110,"v":-1.2},{"s":"2020","d":114,"v":-1.3},{"s":"2020","d":118,"v":-1.4},{"s":"2020","d":122,"v":-1.5},{"s":"2020","d":126,"v":-1.6},{"s":"2020","d":130,"v":-1.65},{"s":"2020","d":133,"v":-1.7},{"s":"2020","d":138,"v":-1.75},{"s":"2020","d":144,"v":-1.8},{"s":"2020","d":148,"v":-1.7},{"s":"2020","d":151,"v":-1.6},{"s":"2020","d":155,"v":-1.7},{"s":"2020","d":159,"v":-1.8},{"s":"2020","d":163,"v":-1.65},{"s":"2020","d":167,"v":-1.5},{"s":"2020","d":171,"v":-1.4},{"s":"2020","d":175,"v":-1.3},{"s":"2020","d":178,"v":-1.45},{"s":"2020","d":182,"v":-1.6},{"s":"2020","d":186,"v":-1.5},{"s":"2020","d":190,"v":-1.4},{"s":"2020","d":194,"v":-1.3},{"s":"2020","d":198,"v":-1.2},{"s":"2020","d":201,"v":-1.1},{"s":"2020","d":203,"v":-1.0},{"s":"2020","d":206,"v":-0.8},{"s":"2020","d":208,"v":-0.6},{"s":"2020","d":211,"v":-0.4},{"s":"2020","d":214,"v":-0.2},{"s":"2020","d":216,"v":-0.35},{"s":"2020","d":219,"v":-0.5},{"s":"2020","d":222,"v":-0.65},{"s":"2020","d":226,"v":-0.8},{"s":"2020","d":229,"v":-0.95},{"s":"2020","d":232,"v":-0.5},{"s":"2020","d":234,"v":-0.4},{"s":"2020","d":237,"v":-0.3},{"s":"2020","d":240,"v":-0.25},{"s":"2020","d":242,"v":-0.2},{"s":"2020","d":245,"v":0},{"s":"2020","d":247,"v":0.1},{"s":"2020","d":251,"v":0.15},{"s":"2020","d":255,"v":0.2},{"s":"2020","d":258,"v":0.25},{"s":"2020","d":260,"v":0.3},{"s":"2020","d":263,"v":0.25},{"s":"2020","d":265,"v":0.2},{"s":"2020","d":268,"v":0.1},{"s":"2020","d":270,"v":-0.4},{"s":"2020","d":272,"v":-0.9},{"s":"2020","d":275,"v":-0.95},{"s":"2020","d":278,"v":-1.0},{"s":"2020","d":282,"v":-1.0},{"s":"2020","d":286,"v":-1.0},{"s":"2020","d":289,"v":-1.1},{"s":"2020","d":291,"v":-1.2},{"s":"2020","d":295,"v":-1.3},{"s":"2020","d":299,"v":-1.35},{"s":"2020","d":303,"v":-1.32},{"s":"2020","d":307,"v":-1.3},{"s":"2020","d":310,"v":-1.25},{"s":"2020","d":314,"v":-1.2},{"s":"2020","d":318,"v":-1.22},{"s":"2020","d":322,"v":-1.25},{"s":"2020","d":325,"v":-1.28},{"s":"2020","d":327,"v":-1.3},{"s":"2020","d":331,"v":-1.2},{"s":"2020","d":335,"v":-1.1},{"s":"2020","d":338,"v":-1.05},{"s":"2020","d":340,"v":-1.0}
],
"c3":[
{"s":"14-15","d":0,"v":-380},{"s":"14-15","d":3,"v":-390},{"s":"14-15","d":5,"v":-400},{"s":"14-15","d":8,"v":-370},{"s":"14-15","d":10,"v":-350},{"s":"14-15","d":12,"v":-320},{"s":"14-15","d":14,"v":-300},{"s":"14-15","d":17,"v":-330},{"s":"14-15","d":20,"v":-350},{"s":"14-15","d":24,"v":-320},{"s":"14-15","d":27,"v":-300},{"s":"14-15","d":30,"v":-315},{"s":"14-15","d":32,"v":-330},{"s":"14-15","d":35,"v":-310},{"s":"14-15","d":39,"v":-300},{"s":"14-15","d":42,"v":-290},{"s":"14-15","d":44,"v":-280},{"s":"14-15","d":47,"v":-290},{"s":"14-15","d":50,"v":-300},{"s":"14-15","d":54,"v":-285},{"s":"14-15","d":57,"v":-270},{"s":"14-15","d":60,"v":-230},{"s":"14-15","d":64,"v":-200},{"s":"14-15","d":67,"v":-210},{"s":"14-15","d":70,"v":-220},{"s":"14-15","d":74,"v":-240},{"s":"14-15","d":77,"v":-250},{"s":"14-15","d":80,"v":-235},{"s":"14-15","d":84,"v":-220},{"s":"14-15","d":87,"v":-250},{"s":"14-15","d":90,"v":-280},{"s":"14-15","d":94,"v":-280},{"s":"14-15","d":97,"v":-280},{"s":"14-15","d":100,"v":-250},{"s":"14-15","d":104,"v":-220},{"s":"14-15","d":107,"v":-235},{"s":"14-15","d":110,"v":-250},{"s":"14-15","d":114,"v":-300},{"s":"14-15","d":117,"v":-340},{"s":"14-15","d":119,"v":-380},{"s":"14-15","d":122,"v":-390},{"s":"14-15","d":124,"v":-400},{"s":"14-15","d":127,"v":-390},{"s":"14-15","d":130,"v":-380},{"s":"14-15","d":134,"v":-390},{"s":"14-15","d":137,"v":-400},{"s":"14-15","d":140,"v":-400},{"s":"14-15","d":144,"v":-400},{"s":"14-15","d":147,"v":-380},{"s":"14-15","d":150,"v":-350},{"s":"14-15","d":154,"v":-370},{"s":"14-15","d":157,"v":-400},{"s":"14-15","d":160,"v":-400},{"s":"14-15","d":164,"v":-400},{"s":"14-15","d":167,"v":-440},{"s":"14-15","d":170,"v":-480},{"s":"14-15","d":174,"v":-520},{"s":"14-15","d":177,"v":-550},{"s":"14-15","d":180,"v":-570},{"s":"14-15","d":184,"v":-600},{"s":"14-15","d":187,"v":-620},{"s":"14-15","d":190,"v":-640},{"s":"14-15","d":194,"v":-620},{"s":"14-15","d":197,"v":-600},{"s":"14-15","d":200,"v":-610},{"s":"14-15","d":204,"v":-620},{"s":"14-15","d":207,"v":-700},{"s":"14-15","d":210,"v":-760},{"s":"14-15","d":212,"v":-800},{"s":"14-15","d":214,"v":-830},
{"s":"15-16","d":0,"v":-280},{"s":"15-16","d":3,"v":-290},{"s":"15-16","d":7,"v":-300},{"s":"15-16","d":10,"v":-320},{"s":"15-16","d":14,"v":-350},{"s":"15-16","d":17,"v":-380},{"s":"15-16","d":20,"v":-400},{"s":"15-16","d":22,"v":-370},{"s":"15-16","d":25,"v":-350},{"s":"15-16","d":27,"v":-380},{"s":"15-16","d":30,"v":-400},{"s":"15-16","d":34,"v":-390},{"s":"15-16","d":37,"v":-380},{"s":"15-16","d":40,"v":-410},{"s":"15-16","d":44,"v":-450},{"s":"15-16","d":47,"v":-500},{"s":"15-16","d":49,"v":-550},{"s":"15-16","d":51,"v":-600},{"s":"15-16","d":53,"v":-550},{"s":"15-16","d":55,"v":-500},{"s":"15-16","d":59,"v":-470},{"s":"15-16","d":64,"v":-450},{"s":"15-16","d":68,"v":-475},{"s":"15-16","d":72,"v":-500},{"s":"15-16","d":76,"v":-490},{"s":"15-16","d":80,"v":-480},{"s":"15-16","d":84,"v":-465},{"s":"15-16","d":87,"v":-450},{"s":"15-16","d":91,"v":-425},{"s":"15-16","d":95,"v":-400},{"s":"15-16","d":100,"v":-375},{"s":"15-16","d":104,"v":-350},{"s":"15-16","d":107,"v":-320},{"s":"15-16","d":110,"v":-300},{"s":"15-16","d":114,"v":-310},{"s":"15-16","d":117,"v":-320},{"s":"15-16","d":120,"v":-350},{"s":"15-16","d":124,"v":-380},{"s":"15-16","d":127,"v":-390},{"s":"15-16","d":130,"v":-400},{"s":"15-16","d":134,"v":-425},{"s":"15-16","d":137,"v":-450},{"s":"15-16","d":140,"v":-465},{"s":"15-16","d":144,"v":-480},{"s":"15-16","d":147,"v":-480},{"s":"15-16","d":150,"v":-480},{"s":"15-16","d":154,"v":-465},{"s":"15-16","d":157,"v":-450},{"s":"15-16","d":160,"v":-475},{"s":"15-16","d":164,"v":-500},{"s":"15-16","d":167,"v":-475},{"s":"15-16","d":170,"v":-450},{"s":"15-16","d":174,"v":-500},{"s":"15-16","d":177,"v":-550},{"s":"15-16","d":180,"v":-575},{"s":"15-16","d":184,"v":-600},{"s":"15-16","d":187,"v":-610},{"s":"15-16","d":190,"v":-620},{"s":"15-16","d":194,"v":-660},{"s":"15-16","d":197,"v":-700},{"s":"15-16","d":200,"v":-750},{"s":"15-16","d":202,"v":-800},{"s":"15-16","d":205,"v":-850},{"s":"15-16","d":207,"v":-900},{"s":"15-16","d":210,"v":-850},{"s":"15-16","d":212,"v":-900},{"s":"15-16","d":214,"v":-850},
{"s":"16-17","d":0,"v":-550},{"s":"16-17","d":4,"v":-535},{"s":"16-17","d":7,"v":-520},{"s":"16-17","d":10,"v":-510},{"s":"16-17","d":14,"v":-500},{"s":"16-17","d":17,"v":-510},{"s":"16-17","d":20,"v":-520},{"s":"16-17","d":24,"v":-535},{"s":"16-17","d":27,"v":-550},{"s":"16-17","d":31,"v":-540},{"s":"16-17","d":35,"v":-530},{"s":"16-17","d":40,"v":-545},{"s":"16-17","d":44,"v":-560},{"s":"16-17","d":49,"v":-555},{"s":"16-17","d":54,"v":-550},{"s":"16-17","d":59,"v":-555},{"s":"16-17","d":64,"v":-560},{"s":"16-17","d":69,"v":-580},{"s":"16-17","d":74,"v":-600},{"s":"16-17","d":79,"v":-625},{"s":"16-17","d":84,"v":-650},{"s":"16-17","d":89,"v":-675},{"s":"16-17","d":94,"v":-700},{"s":"16-17","d":99,"v":-710},{"s":"16-17","d":104,"v":-720},{"s":"16-17","d":109,"v":-750},{"s":"16-17","d":114,"v":-780},{"s":"16-17","d":119,"v":-815},{"s":"16-17","d":124,"v":-850},{"s":"16-17","d":127,"v":-875},{"s":"16-17","d":130,"v":-900},{"s":"16-17","d":134,"v":-850},{"s":"16-17","d":137,"v":-800},{"s":"16-17","d":140,"v":-825},{"s":"16-17","d":144,"v":-850},{"s":"16-17","d":147,"v":-900},{"s":"16-17","d":150,"v":-950},{"s":"16-17","d":154,"v":-975},{"s":"16-17","d":157,"v":-1000},{"s":"16-17","d":160,"v":-1025},{"s":"16-17","d":164,"v":-1050},{"s":"16-17","d":167,"v":-1065},{"s":"16-17","d":170,"v":-1080},{"s":"16-17","d":174,"v":-1065},{"s":"16-17","d":177,"v":-1050},{"s":"16-17","d":180,"v":-980},{"s":"16-17","d":182,"v":-920},{"s":"16-17","d":185,"v":-935},{"s":"16-17","d":187,"v":-950},{"s":"16-17","d":190,"v":-975},{"s":"16-17","d":192,"v":-1000},{"s":"16-17","d":195,"v":-1025},{"s":"16-17","d":197,"v":-1050},{"s":"16-17","d":200,"v":-1120},{"s":"16-17","d":202,"v":-1200},{"s":"16-17","d":204,"v":-1250},{"s":"16-17","d":205,"v":-1300},{"s":"16-17","d":207,"v":-1400},{"s":"16-17","d":210,"v":-1500},{"s":"16-17","d":212,"v":-1600},
{"s":"17-18","d":0,"v":-500},{"s":"17-18","d":4,"v":-490},{"s":"17-18","d":7,"v":-480},{"s":"17-18","d":10,"v":-490},{"s":"17-18","d":14,"v":-500},{"s":"17-18","d":17,"v":-490},{"s":"17-18","d":20,"v":-480},{"s":"17-18","d":24,"v":-465},{"s":"17-18","d":27,"v":-450},{"s":"17-18","d":31,"v":-435},{"s":"17-18","d":35,"v":-420},{"s":"17-18","d":40,"v":-400},{"s":"17-18","d":44,"v":-380},{"s":"17-18","d":47,"v":-365},{"s":"17-18","d":50,"v":-350},{"s":"17-18","d":54,"v":-365},{"s":"17-18","d":57,"v":-380},{"s":"17-18","d":60,"v":-415},{"s":"17-18","d":64,"v":-450},{"s":"17-18","d":69,"v":-475},{"s":"17-18","d":74,"v":-500},{"s":"17-18","d":77,"v":-490},{"s":"17-18","d":80,"v":-480},{"s":"17-18","d":84,"v":-465},{"s":"17-18","d":87,"v":-450},{"s":"17-18","d":90,"v":-435},{"s":"17-18","d":94,"v":-420},{"s":"17-18","d":97,"v":-410},{"s":"17-18","d":100,"v":-400},{"s":"17-18","d":104,"v":-375},{"s":"17-18","d":107,"v":-350},{"s":"17-18","d":110,"v":-365},{"s":"17-18","d":114,"v":-380},{"s":"17-18","d":117,"v":-415},{"s":"17-18","d":120,"v":-450},{"s":"17-18","d":124,"v":-475},{"s":"17-18","d":127,"v":-500},{"s":"17-18","d":130,"v":-460},{"s":"17-18","d":134,"v":-420},{"s":"17-18","d":137,"v":-410},{"s":"17-18","d":140,"v":-400},{"s":"17-18","d":144,"v":-440},{"s":"17-18","d":147,"v":-480},{"s":"17-18","d":150,"v":-465},{"s":"17-18","d":154,"v":-450},{"s":"17-18","d":157,"v":-425},{"s":"17-18","d":160,"v":-400},{"s":"17-18","d":164,"v":-425},{"s":"17-18","d":167,"v":-450},{"s":"17-18","d":170,"v":-440},{"s":"17-18","d":174,"v":-430},{"s":"17-18","d":177,"v":-465},{"s":"17-18","d":180,"v":-500},{"s":"17-18","d":184,"v":-550},{"s":"17-18","d":187,"v":-600},{"s":"17-18","d":190,"v":-575},{"s":"17-18","d":192,"v":-550},{"s":"17-18","d":195,"v":-525},{"s":"17-18","d":197,"v":-500},{"s":"17-18","d":199,"v":-475},{"s":"17-18","d":200,"v":-450},{"s":"17-18","d":202,"v":-375},{"s":"17-18","d":204,"v":-300},{"s":"17-18","d":207,"v":-230},{"s":"17-18","d":209,"v":-200},{"s":"17-18","d":210,"v":-180},{"s":"17-18","d":211,"v":-200},{"s":"17-18","d":212,"v":-260},
{"s":"18-19","d":0,"v":-520},{"s":"18-19","d":4,"v":-510},{"s":"18-19","d":7,"v":-500},{"s":"18-19","d":10,"v":-510},{"s":"18-19","d":14,"v":-520},{"s":"18-19","d":19,"v":-500},{"s":"18-19","d":24,"v":-480},{"s":"18-19","d":29,"v":-490},{"s":"18-19","d":34,"v":-500},{"s":"18-19","d":39,"v":-475},{"s":"18-19","d":44,"v":-450},{"s":"18-19","d":47,"v":-475},{"s":"18-19","d":50,"v":-500},{"s":"18-19","d":52,"v":-525},{"s":"18-19","d":54,"v":-550},{"s":"18-19","d":57,"v":-525},{"s":"18-19","d":59,"v":-500},{"s":"18-19","d":62,"v":-475},{"s":"18-19","d":64,"v":-450},{"s":"18-19","d":67,"v":-465},{"s":"18-19","d":70,"v":-480},{"s":"18-19","d":74,"v":-490},{"s":"18-19","d":77,"v":-500},{"s":"18-19","d":80,"v":-485},{"s":"18-19","d":84,"v":-470},{"s":"18-19","d":87,"v":-450},{"s":"18-19","d":90,"v":-465},{"s":"18-19","d":94,"v":-480},{"s":"18-19","d":99,"v":-490},{"s":"18-19","d":104,"v":-500},{"s":"18-19","d":109,"v":-510},{"s":"18-19","d":114,"v":-520},{"s":"18-19","d":119,"v":-510},{"s":"18-19","d":124,"v":-500},{"s":"18-19","d":127,"v":-525},{"s":"18-19","d":130,"v":-550},{"s":"18-19","d":134,"v":-575},{"s":"18-19","d":137,"v":-600},{"s":"18-19","d":140,"v":-650},{"s":"18-19","d":144,"v":-700},{"s":"18-19","d":147,"v":-690},{"s":"18-19","d":150,"v":-680},{"s":"18-19","d":154,"v":-690},{"s":"18-19","d":157,"v":-700},{"s":"18-19","d":160,"v":-710},{"s":"18-19","d":164,"v":-720},{"s":"18-19","d":167,"v":-700},{"s":"18-19","d":170,"v":-680},{"s":"18-19","d":174,"v":-665},{"s":"18-19","d":177,"v":-650},{"s":"18-19","d":180,"v":-635},{"s":"18-19","d":184,"v":-620},{"s":"18-19","d":187,"v":-650},{"s":"18-19","d":190,"v":-665},{"s":"18-19","d":194,"v":-680},{"s":"18-19","d":197,"v":-650},{"s":"18-19","d":199,"v":-600},{"s":"18-19","d":200,"v":-550},{"s":"18-19","d":203,"v":-515},{"s":"18-19","d":205,"v":-480},{"s":"18-19","d":208,"v":-450},{"s":"18-19","d":210,"v":-420},{"s":"18-19","d":212,"v":-450},{"s":"18-19","d":214,"v":-500},
{"s":"19-20","d":0,"v":-480},{"s":"19-20","d":3,"v":-515},{"s":"19-20","d":5,"v":-550},{"s":"19-20","d":8,"v":-525},{"s":"19-20","d":10,"v":-500},{"s":"19-20","d":12,"v":-450},{"s":"19-20","d":14,"v":-400},{"s":"19-20","d":17,"v":-375},{"s":"19-20","d":20,"v":-350},{"s":"19-20","d":22,"v":-250},{"s":"19-20","d":25,"v":-150},{"s":"19-20","d":27,"v":-120},{"s":"19-20","d":29,"v":-200},{"s":"19-20","d":31,"v":-250},{"s":"19-20","d":34,"v":-300},{"s":"19-20","d":37,"v":-290},{"s":"19-20","d":40,"v":-280},{"s":"19-20","d":44,"v":-290},{"s":"19-20","d":47,"v":-300},{"s":"19-20","d":50,"v":-275},{"s":"19-20","d":54,"v":-250},{"s":"19-20","d":57,"v":-300},{"s":"19-20","d":60,"v":-350},{"s":"19-20","d":64,"v":-375},{"s":"19-20","d":67,"v":-400},{"s":"19-20","d":70,"v":-425},{"s":"19-20","d":74,"v":-450},{"s":"19-20","d":77,"v":-425},{"s":"19-20","d":80,"v":-400},{"s":"19-20","d":84,"v":-475},{"s":"19-20","d":87,"v":-550},{"s":"19-20","d":90,"v":-500},{"s":"19-20","d":94,"v":-450},{"s":"19-20","d":97,"v":-475},{"s":"19-20","d":100,"v":-500},{"s":"19-20","d":104,"v":-525},{"s":"19-20","d":107,"v":-550},{"s":"19-20","d":110,"v":-575},{"s":"19-20","d":114,"v":-600},{"s":"19-20","d":117,"v":-625},{"s":"19-20","d":120,"v":-650},{"s":"19-20","d":122,"v":-625},{"s":"19-20","d":125,"v":-600},{"s":"19-20","d":127,"v":-800},{"s":"19-20","d":129,"v":-1000},{"s":"19-20","d":131,"v":-975},{"s":"19-20","d":134,"v":-950},{"s":"19-20","d":136,"v":-1025},{"s":"19-20","d":137,"v":-1100},{"s":"19-20","d":139,"v":-1050},{"s":"19-20","d":140,"v":-1000},{"s":"19-20","d":142,"v":-925},{"s":"19-20","d":144,"v":-850},{"s":"19-20","d":147,"v":-800},{"s":"19-20","d":150,"v":-900},{"s":"19-20","d":152,"v":-925},{"s":"19-20","d":155,"v":-950},{"s":"19-20","d":157,"v":-925},{"s":"19-20","d":160,"v":-900},{"s":"19-20","d":162,"v":-1000},{"s":"19-20","d":165,"v":-1100},{"s":"19-20","d":167,"v":-1075},{"s":"19-20","d":170,"v":-1050},{"s":"19-20","d":172,"v":-1100},{"s":"19-20","d":175,"v":-1150},{"s":"19-20","d":177,"v":-1075},{"s":"19-20","d":180,"v":-1000},{"s":"19-20","d":182,"v":-975},{"s":"19-20","d":185,"v":-950},{"s":"19-20","d":187,"v":-975},{"s":"19-20","d":190,"v":-1000},{"s":"19-20","d":192,"v":-975},{"s":"19-20","d":195,"v":-950},{"s":"19-20","d":197,"v":-950},{"s":"19-20","d":200,"v":-950},{"s":"19-20","d":202,"v":-1025},{"s":"19-20","d":205,"v":-1100},{"s":"19-20","d":207,"v":-1150},{"s":"19-20","d":210,"v":-1200},{"s":"19-20","d":212,"v":-1250},{"s":"19-20","d":213,"v":-1300},
{"s":"20-21","d":0,"v":-550},{"s":"20-21","d":3,"v":-565},{"s":"20-21","d":5,"v":-580},{"s":"20-21","d":8,"v":-590},{"s":"20-21","d":10,"v":-600},{"s":"20-21","d":14,"v":-610},{"s":"20-21","d":17,"v":-620},{"s":"20-21","d":20,"v":-635},{"s":"20-21","d":24,"v":-650},{"s":"20-21","d":27,"v":-680},{"s":"20-21","d":29,"v":-700},{"s":"20-21","d":30,"v":-670},{"s":"20-21","d":32,"v":-650},{"s":"20-21","d":35,"v":-680},{"s":"20-21","d":37,"v":-700},{"s":"20-21","d":40,"v":-680},{"s":"20-21","d":44,"v":-650},{"s":"20-21","d":47,"v":-665},{"s":"20-21","d":49,"v":-680},{"s":"20-21","d":52,"v":-700},{"s":"20-21","d":54,"v":-720},{"s":"20-21","d":57,"v":-710},{"s":"20-21","d":59,"v":-700},{"s":"20-21","d":61,"v":-720},{"s":"20-21","d":62,"v":-720},{"s":"20-21","d":63,"v":-650},{"s":"20-21","d":64,"v":-600},{"s":"20-21","d":66,"v":-590},{"s":"20-21","d":67,"v":-580}
],
"c4":[
{"s":"2014年","d":0,"v":4250},{"s":"2014年","d":4,"v":4180},{"s":"2014年","d":8,"v":4100},{"s":"2014年","d":12,"v":4150},{"s":"2014年","d":15,"v":4200},{"s":"2014年","d":20,"v":4200},{"s":"2014年","d":25,"v":4180},{"s":"2014年","d":28,"v":4200},{"s":"2014年","d":33,"v":4250},{"s":"2014年","d":38,"v":4300},{"s":"2014年","d":43,"v":4350},{"s":"2014年","d":48,"v":4400},{"s":"2014年","d":53,"v":4380},{"s":"2014年","d":58,"v":4400},{"s":"2014年","d":63,"v":4450},{"s":"2014年","d":68,"v":4500},{"s":"2014年","d":73,"v":4480},{"s":"2014年","d":78,"v":4450},{"s":"2014年","d":83,"v":4520},{"s":"2014年","d":88,"v":4600},{"s":"2014年","d":93,"v":4650},{"s":"2014年","d":98,"v":4700},{"s":"2014年","d":100,"v":4650},{"s":"2014年","d":103,"v":4600},{"s":"2014年","d":105,"v":4700},{"s":"2014年","d":108,"v":4800},{"s":"2014年","d":111,"v":4850},{"s":"2014年","d":115,"v":4900},{"s":"2014年","d":120,"v":4950},{"s":"2014年","d":123,"v":5000},{"s":"2014年","d":126,"v":5050},{"s":"2014年","d":130,"v":5100},{"s":"2014年","d":134,"v":5180},{"s":"2014年","d":138,"v":5250},{"s":"2014年","d":141,"v":5230},{"s":"2014年","d":143,"v":5200},{"s":"2014年","d":145,"v":5150},{"s":"2014年","d":148,"v":5100},{"s":"2014年","d":151,"v":5050},{"s":"2014年","d":155,"v":5000},{"s":"2014年","d":159,"v":4970},{"s":"2014年","d":163,"v":4950},{"s":"2014年","d":166,"v":4980},{"s":"2014年","d":170,"v":5000},{"s":"2014年","d":173,"v":5100},{"s":"2014年","d":175,"v":5200},{"s":"2014年","d":180,"v":5250},{"s":"2014年","d":183,"v":5300},{"s":"2014年","d":186,"v":5320},{"s":"2014年","d":190,"v":5350},{"s":"2014年","d":193,"v":5320},{"s":"2014年","d":195,"v":5300},{"s":"2014年","d":198,"v":5400},{"s":"2014年","d":200,"v":5420},{"s":"2014年","d":203,"v":5450},{"s":"2014年","d":205,"v":5380},{"s":"2014年","d":208,"v":5300},{"s":"2014年","d":211,"v":5320},{"s":"2014年","d":215,"v":5350},{"s":"2014年","d":219,"v":5380},{"s":"2014年","d":223,"v":5400},{"s":"2014年","d":226,"v":5350},{"s":"2014年","d":230,"v":5300},{"s":"2014年","d":234,"v":5250},{"s":"2014年","d":238,"v":5200},{"s":"2014年","d":241,"v":5150},{"s":"2014年","d":245,"v":5100},{"s":"2014年","d":248,"v":5150},{"s":"2014年","d":250,"v":5200},{"s":"2014年","d":253,"v":5150},{"s":"2014年","d":255,"v":5100},{"s":"2014年","d":258,"v":5050},{"s":"2014年","d":260,"v":5000},{"s":"2014年","d":262,"v":5100},{"s":"2014年","d":263,"v":5200},{"s":"2014年","d":264,"v":4850},{"s":"2014年","d":265,"v":4500},{"s":"2014年","d":269,"v":4520},{"s":"2014年","d":273,"v":4550},{"s":"2014年","d":276,"v":4580},{"s":"2014年","d":280,"v":4600},{"s":"2014年","d":284,"v":4650},{"s":"2014年","d":288,"v":4700},{"s":"2014年","d":293,"v":4700},{"s":"2014年","d":298,"v":4700},{"s":"2014年","d":303,"v":4680},{"s":"2014年","d":308,"v":4650},{"s":"2014年","d":313,"v":4620},{"s":"2014年","d":318,"v":4600},{"s":"2014年","d":323,"v":4620},{"s":"2014年","d":328,"v":4650},{"s":"2014年","d":333,"v":4680},{"s":"2014年","d":338,"v":4700},{"s":"2014年","d":341,"v":4750},{"s":"2014年","d":345,"v":4800},{"s":"2014年","d":348,"v":4780},{"s":"2014年","d":350,"v":4750},{"s":"2014年","d":353,"v":4720},{"s":"2014年","d":355,"v":4700},{"s":"2014年","d":358,"v":4650},{"s":"2014年","d":360,"v":4600},{"s":"2014年","d":363,"v":4580},{"s":"2014年","d":365,"v":4550},
{"s":"2015年","d":0,"v":4500},{"s":"2015年","d":3,"v":4550},{"s":"2015年","d":5,"v":4600},{"s":"2015年","d":8,"v":4580},{"s":"2015年","d":10,"v":4550},{"s":"2015年","d":13,"v":4500},{"s":"2015年","d":15,"v":4450},{"s":"2015年","d":19,"v":4480},{"s":"2015年","d":23,"v":4500},{"s":"2015年","d":27,"v":4580},{"s":"2015年","d":30,"v":4650},{"s":"2015年","d":34,"v":4620},{"s":"2015年","d":38,"v":4600},{"s":"2015年","d":43,"v":4580},{"s":"2015年","d":48,"v":4550},{"s":"2015年","d":52,"v":4520},{"s":"2015年","d":55,"v":4500},{"s":"2015年","d":59,"v":4550},{"s":"2015年","d":63,"v":4600},{"s":"2015年","d":67,"v":4650},{"s":"2015年","d":70,"v":4700},{"s":"2015年","d":74,"v":4680},{"s":"2015年","d":78,"v":4650},{"s":"2015年","d":81,"v":4680},{"s":"2015年","d":85,"v":4700},{"s":"2015年","d":89,"v":4650},{"s":"2015年","d":93,"v":4600},{"s":"2015年","d":96,"v":4550},{"s":"2015年","d":100,"v":4500},{"s":"2015年","d":104,"v":4450},{"s":"2015年","d":108,"v":4400},{"s":"2015年","d":113,"v":4420},{"s":"2015年","d":118,"v":4450},{"s":"2015年","d":123,"v":4480},{"s":"2015年","d":128,"v":4500},{"s":"2015年","d":133,"v":4480},{"s":"2015年","d":138,"v":4450},{"s":"2015年","d":143,"v":4420},{"s":"2015年","d":148,"v":4400},{"s":"2015年","d":152,"v":4420},{"s":"2015年","d":155,"v":4450},{"s":"2015年","d":159,"v":4400},{"s":"2015年","d":163,"v":4350},{"s":"2015年","d":167,"v":4300},{"s":"2015年","d":170,"v":4250},{"s":"2015年","d":174,"v":4220},{"s":"2015年","d":178,"v":4200},{"s":"2015年","d":182,"v":4180},{"s":"2015年","d":185,"v":4150},{"s":"2015年","d":189,"v":4180},{"s":"2015年","d":193,"v":4200},{"s":"2015年","d":197,"v":4150},{"s":"2015年","d":200,"v":4100},{"s":"2015年","d":204,"v":4200},{"s":"2015年","d":208,"v":4300},{"s":"2015年","d":212,"v":4350},{"s":"2015年","d":215,"v":4400},{"s":"2015年","d":219,"v":4350},{"s":"2015年","d":223,"v":4300},{"s":"2015年","d":226,"v":4250},{"s":"2015年","d":228,"v":4200},{"s":"2015年","d":232,"v":4150},{"s":"2015年","d":235,"v":4100},{"s":"2015年","d":239,"v":4050},{"s":"2015年","d":243,"v":4000},{"s":"2015年","d":247,"v":3950},{"s":"2015年","d":250,"v":3900},{"s":"2015年","d":254,"v":3930},{"s":"2015年","d":258,"v":3950},{"s":"2015年","d":262,"v":3900},{"s":"2015年","d":265,"v":3850},{"s":"2015年","d":269,"v":3820},{"s":"2015年","d":273,"v":3800},{"s":"2015年","d":277,"v":3780},{"s":"2015年","d":280,"v":3750},{"s":"2015年","d":284,"v":3780},{"s":"2015年","d":288,"v":3800},{"s":"2015年","d":293,"v":3850},{"s":"2015年","d":298,"v":3900},{"s":"2015年","d":303,"v":3880},{"s":"2015年","d":308,"v":3850},{"s":"2015年","d":313,"v":3820},{"s":"2015年","d":318,"v":3800},{"s":"2015年","d":323,"v":3780},{"s":"2015年","d":328,"v":3750},{"s":"2015年","d":333,"v":3720},{"s":"2015年","d":338,"v":3700},{"s":"2015年","d":343,"v":3720},{"s":"2015年","d":348,"v":3750},{"s":"2015年","d":353,"v":3720},{"s":"2015年","d":358,"v":3700},{"s":"2015年","d":362,"v":3680},{"s":"2015年","d":365,"v":3700},
{"s":"2016年","d":0,"v":3700},{"s":"2016年","d":4,"v":3650},{"s":"2016年","d":8,"v":3600},{"s":"2016年","d":12,"v":3570},{"s":"2016年","d":15,"v":3550},{"s":"2016年","d":19,"v":3580},{"s":"2016年","d":23,"v":3600},{"s":"2016年","d":27,"v":3580},{"s":"2016年","d":30,"v":3550},{"s":"2016年","d":34,"v":3580},{"s":"2016年","d":38,"v":3600},{"s":"2016年","d":43,"v":3580},{"s":"2016年","d":48,"v":3550},{"s":"2016年","d":53,"v":3520},{"s":"2016年","d":58,"v":3500},{"s":"2016年","d":62,"v":3470},{"s":"2016年","d":65,"v":3450},{"s":"2016年","d":69,"v":3500},{"s":"2016年","d":73,"v":3550},{"s":"2016年","d":77,"v":3580},{"s":"2016年","d":80,"v":3600},{"s":"2016年","d":84,"v":3620},{"s":"2016年","d":88,"v":3650},{"s":"2016年","d":93,"v":3720},{"s":"2016年","d":98,"v":3800},{"s":"2016年","d":103,"v":3820},{"s":"2016年","d":108,"v":3850},{"s":"2016年","d":113,"v":3920},{"s":"2016年","d":118,"v":4000},{"s":"2016年","d":123,"v":4050},{"s":"2016年","d":128,"v":4100},{"s":"2016年","d":133,"v":4080},{"s":"2016年","d":138,"v":4050},{"s":"2016年","d":142,"v":3980},{"s":"2016年","d":145,"v":3900},{"s":"2016年","d":149,"v":3850},{"s":"2016年","d":153,"v":3800},{"s":"2016年","d":157,"v":3820},{"s":"2016年","d":160,"v":3850},{"s":"2016年","d":164,"v":3920},{"s":"2016年","d":168,"v":4000},{"s":"2016年","d":173,"v":3950},{"s":"2016年","d":178,"v":3900},{"s":"2016年","d":182,"v":3870},{"s":"2016年","d":185,"v":3850},{"s":"2016年","d":189,"v":3920},{"s":"2016年","d":193,"v":4000},{"s":"2016年","d":197,"v":4050},{"s":"2016年","d":200,"v":4100},{"s":"2016年","d":204,"v":4000},{"s":"2016年","d":208,"v":3900},{"s":"2016年","d":211,"v":3850},{"s":"2016年","d":213,"v":3800},{"s":"2016年","d":216,"v":3750},{"s":"2016年","d":218,"v":3700},{"s":"2016年","d":222,"v":3650},{"s":"2016年","d":225,"v":3600},{"s":"2016年","d":230,"v":3570},{"s":"2016年","d":235,"v":3550},{"s":"2016年","d":239,"v":3520},{"s":"2016年","d":243,"v":3500},{"s":"2016年","d":247,"v":3520},{"s":"2016年","d":250,"v":3550},{"s":"2016年","d":254,"v":3580},{"s":"2016年","d":258,"v":3600},{"s":"2016年","d":262,"v":3620},{"s":"2016年","d":265,"v":3650},{"s":"2016年","d":269,"v":3680},{"s":"2016年","d":273,"v":3700},{"s":"2016年","d":277,"v":3680},{"s":"2016年","d":280,"v":3650},{"s":"2016年","d":284,"v":3680},{"s":"2016年","d":288,"v":3700},{"s":"2016年","d":293,"v":3750},{"s":"2016年","d":298,"v":3800},{"s":"2016年","d":303,"v":3850},{"s":"2016年","d":308,"v":3900},{"s":"2016年","d":313,"v":3950},{"s":"2016年","d":318,"v":4000},{"s":"2016年","d":323,"v":4050},{"s":"2016年","d":328,"v":4100},{"s":"2016年","d":333,"v":4150},{"s":"2016年","d":338,"v":4200},{"s":"2016年","d":343,"v":4150},{"s":"2016年","d":348,"v":4100},{"s":"2016年","d":353,"v":4080},{"s":"2016年","d":358,"v":4050},{"s":"2016年","d":362,"v":4020},{"s":"2016年","d":365,"v":4000},
{"s":"2017年","d":0,"v":4100},{"s":"2017年","d":5,"v":4150},{"s":"2017年","d":10,"v":4200},{"s":"2017年","d":16,"v":4180},{"s":"2017年","d":23,"v":4150},{"s":"2017年","d":30,"v":4180},{"s":"2017年","d":38,"v":4200},{"s":"2017年","d":45,"v":4220},{"s":"2017年","d":53,"v":4250},{"s":"2017年","d":58,"v":4280},{"s":"2017年","d":63,"v":4300},{"s":"2017年","d":70,"v":4280},{"s":"2017年","d":78,"v":4250},{"s":"2017年","d":83,"v":4220},{"s":"2017年","d":88,"v":4200},{"s":"2017年","d":93,"v":4150},{"s":"2017年","d":98,"v":4100},{"s":"2017年","d":102,"v":4050},{"s":"2017年","d":105,"v":4000},{"s":"2017年","d":109,"v":3950},{"s":"2017年","d":113,"v":3900},{"s":"2017年","d":117,"v":3850},{"s":"2017年","d":120,"v":3800},{"s":"2017年","d":124,"v":3780},{"s":"2017年","d":128,"v":3750},{"s":"2017年","d":131,"v":3720},{"s":"2017年","d":133,"v":3700},{"s":"2017年","d":136,"v":3650},{"s":"2017年","d":138,"v":3600},{"s":"2017年","d":141,"v":3550},{"s":"2017年","d":143,"v":3500},{"s":"2017年","d":147,"v":3480},{"s":"2017年","d":150,"v":3450},{"s":"2017年","d":153,"v":3420},{"s":"2017年","d":155,"v":3400},{"s":"2017年","d":158,"v":3500},{"s":"2017年","d":160,"v":3600},{"s":"2017年","d":163,"v":3700},{"s":"2017年","d":165,"v":3800},{"s":"2017年","d":169,"v":3900},{"s":"2017年","d":173,"v":4000},{"s":"2017年","d":176,"v":3950},{"s":"2017年","d":180,"v":3900},{"s":"2017年","d":184,"v":3920},{"s":"2017年","d":188,"v":3950},{"s":"2017年","d":191,"v":4000},{"s":"2017年","d":195,"v":4050},{"s":"2017年","d":199,"v":4020},{"s":"2017年","d":203,"v":4000},{"s":"2017年","d":206,"v":4050},{"s":"2017年","d":210,"v":4100},{"s":"2017年","d":214,"v":4150},{"s":"2017年","d":218,"v":4200},{"s":"2017年","d":222,"v":4280},{"s":"2017年","d":225,"v":4350},{"s":"2017年","d":229,"v":4280},{"s":"2017年","d":233,"v":4200},{"s":"2017年","d":236,"v":4150},{"s":"2017年","d":240,"v":4100},{"s":"2017年","d":244,"v":4050},{"s":"2017年","d":248,"v":4000},{"s":"2017年","d":251,"v":4050},{"s":"2017年","d":255,"v":4100},{"s":"2017年","d":259,"v":4150},{"s":"2017年","d":263,"v":4200},{"s":"2017年","d":266,"v":4180},{"s":"2017年","d":270,"v":4150},{"s":"2017年","d":274,"v":4180},{"s":"2017年","d":278,"v":4200},{"s":"2017年","d":283,"v":4250},{"s":"2017年","d":288,"v":4300},{"s":"2017年","d":293,"v":4320},{"s":"2017年","d":298,"v":4350},{"s":"2017年","d":303,"v":4320},{"s":"2017年","d":308,"v":4300},{"s":"2017年","d":313,"v":4270},{"s":"2017年","d":318,"v":4250},{"s":"2017年","d":323,"v":4280},{"s":"2017年","d":328,"v":4300},{"s":"2017年","d":333,"v":4300},{"s":"2017年","d":338,"v":4300},{"s":"2017年","d":343,"v":4280},{"s":"2017年","d":348,"v":4250},{"s":"2017年","d":353,"v":4220},{"s":"2017年","d":358,"v":4200},{"s":"2017年","d":362,"v":4230},{"s":"2017年","d":365,"v":4250},
{"s":"2018年","d":0,"v":4250},{"s":"2018年","d":4,"v":4200},{"s":"2018年","d":8,"v":4150},{"s":"2018年","d":13,"v":4150},{"s":"2018年","d":18,"v":4150},{"s":"2018年","d":23,"v":4120},{"s":"2018年","d":28,"v":4100},{"s":"2018年","d":33,"v":4130},{"s":"2018年","d":38,"v":4150},{"s":"2018年","d":43,"v":4180},{"s":"2018年","d":48,"v":4200},{"s":"2018年","d":53,"v":4150},{"s":"2018年","d":58,"v":4100},{"s":"2018年","d":63,"v":4050},{"s":"2018年","d":68,"v":4000},{"s":"2018年","d":73,"v":3980},{"s":"2018年","d":78,"v":3950},{"s":"2018年","d":83,"v":3920},{"s":"2018年","d":88,"v":3900},{"s":"2018年","d":93,"v":3950},{"s":"2018年","d":98,"v":4000},{"s":"2018年","d":103,"v":4050},{"s":"2018年","d":108,"v":4100},{"s":"2018年","d":113,"v":4080},{"s":"2018年","d":118,"v":4050},{"s":"2018年","d":123,"v":4080},{"s":"2018年","d":128,"v":4100},{"s":"2018年","d":133,"v":4130},{"s":"2018年","d":138,"v":4150},{"s":"2018年","d":143,"v":4180},{"s":"2018年","d":148,"v":4200},{"s":"2018年","d":153,"v":4180},{"s":"2018年","d":158,"v":4150},{"s":"2018年","d":163,"v":4180},{"s":"2018年","d":168,"v":4200},{"s":"2018年","d":173,"v":4230},{"s":"2018年","d":178,"v":4250},{"s":"2018年","d":183,"v":4230},{"s":"2018年","d":188,"v":4200},{"s":"2018年","d":193,"v":4180},{"s":"2018年","d":198,"v":4150},{"s":"2018年","d":203,"v":4180},{"s":"2018年","d":208,"v":4200},{"s":"2018年","d":213,"v":4230},{"s":"2018年","d":218,"v":4250},{"s":"2018年","d":223,"v":4280},{"s":"2018年","d":228,"v":4300},{"s":"2018年","d":233,"v":4330},{"s":"2018年","d":238,"v":4350},{"s":"2018年","d":241,"v":4320},{"s":"2018年","d":245,"v":4300},{"s":"2018年","d":249,"v":4250},{"s":"2018年","d":253,"v":4200},{"s":"2018年","d":256,"v":4180},{"s":"2018年","d":260,"v":4150},{"s":"2018年","d":264,"v":4180},{"s":"2018年","d":268,"v":4200},{"s":"2018年","d":273,"v":4180},{"s":"2018年","d":278,"v":4150},{"s":"2018年","d":283,"v":4120},{"s":"2018年","d":288,"v":4100},{"s":"2018年","d":293,"v":4080},{"s":"2018年","d":298,"v":4050},{"s":"2018年","d":303,"v":4020},{"s":"2018年","d":308,"v":4000},{"s":"2018年","d":313,"v":4020},{"s":"2018年","d":318,"v":4050},{"s":"2018年","d":323,"v":4020},{"s":"2018年","d":328,"v":4000},{"s":"2018年","d":333,"v":3980},{"s":"2018年","d":338,"v":3950},{"s":"2018年","d":343,"v":3950},{"s":"2018年","d":348,"v":3950},{"s":"2018年","d":353,"v":3930},{"s":"2018年","d":358,"v":3900},{"s":"2018年","d":362,"v":3900},{"s":"2018年","d":365,"v":3900},
{"s":"2019年","d":0,"v":3950},{"s":"2019年","d":4,"v":3950},{"s":"2019年","d":8,"v":3950},{"s":"2019年","d":13,"v":3980},{"s":"2019年","d":18,"v":4000},{"s":"2019年","d":23,"v":4000},{"s":"2019年","d":28,"v":4000},{"s":"2019年","d":33,"v":4020},{"s":"2019年","d":38,"v":4050},{"s":"2019年","d":43,"v":4080},{"s":"2019年","d":48,"v":4100},{"s":"2019年","d":53,"v":4100},{"s":"2019年","d":58,"v":4100},{"s":"2019年","d":63,"v":4150},{"s":"2019年","d":68,"v":4200},{"s":"2019年","d":73,"v":4180},{"s":"2019年","d":78,"v":4150},{"s":"2019年","d":83,"v":4180},{"s":"2019年","d":88,"v":4200},{"s":"2019年","d":93,"v":4220},{"s":"2019年","d":98,"v":4250},{"s":"2019年","d":103,"v":4280},{"s":"2019年","d":108,"v":4300},{"s":"2019年","d":113,"v":4320},{"s":"2019年","d":118,"v":4350},{"s":"2019年","d":123,"v":4350},{"s":"2019年","d":128,"v":4350},{"s":"2019年","d":133,"v":4380},{"s":"2019年","d":138,"v":4400},{"s":"2019年","d":143,"v":4420},{"s":"2019年","d":148,"v":4450},{"s":"2019年","d":152,"v":4420},{"s":"2019年","d":155,"v":4400},{"s":"2019年","d":159,"v":4480},{"s":"2019年","d":163,"v":4550},{"s":"2019年","d":167,"v":4580},{"s":"2019年","d":170,"v":4600},{"s":"2019年","d":174,"v":4550},{"s":"2019年","d":178,"v":4500},{"s":"2019年","d":182,"v":4550},{"s":"2019年","d":185,"v":4600},{"s":"2019年","d":189,"v":4650},{"s":"2019年","d":193,"v":4700},{"s":"2019年","d":197,"v":4750},{"s":"2019年","d":200,"v":4800},{"s":"2019年","d":203,"v":4780},{"s":"2019年","d":205,"v":4750},{"s":"2019年","d":208,"v":4620},{"s":"2019年","d":210,"v":4500},{"s":"2019年","d":214,"v":4450},{"s":"2019年","d":218,"v":4400},{"s":"2019年","d":222,"v":4350},{"s":"2019年","d":225,"v":4300},{"s":"2019年","d":229,"v":4250},{"s":"2019年","d":233,"v":4200},{"s":"2019年","d":236,"v":4300},{"s":"2019年","d":238,"v":4400},{"s":"2019年","d":242,"v":4350},{"s":"2019年","d":245,"v":4300},{"s":"2019年","d":249,"v":4200},{"s":"2019年","d":253,"v":4100},{"s":"2019年","d":256,"v":4150},{"s":"2019年","d":258,"v":4200},{"s":"2019年","d":261,"v":4300},{"s":"2019年","d":263,"v":4400},{"s":"2019年","d":266,"v":4550},{"s":"2019年","d":270,"v":4700},{"s":"2019年","d":274,"v":4850},{"s":"2019年","d":278,"v":5000},{"s":"2019年","d":281,"v":5080},{"s":"2019年","d":283,"v":5100},{"s":"2019年","d":284,"v":4900},{"s":"2019年","d":285,"v":4700},{"s":"2019年","d":287,"v":4500},{"s":"2019年","d":288,"v":4300},{"s":"2019年","d":293,"v":4270},{"s":"2019年","d":298,"v":4250},{"s":"2019年","d":303,"v":4280},{"s":"2019年","d":308,"v":4300},{"s":"2019年","d":313,"v":4350},{"s":"2019年","d":318,"v":4400},{"s":"2019年","d":323,"v":4350},{"s":"2019年","d":328,"v":4300},{"s":"2019年","d":333,"v":4280},{"s":"2019年","d":338,"v":4250},{"s":"2019年","d":343,"v":4220},{"s":"2019年","d":348,"v":4200},{"s":"2019年","d":353,"v":4150},{"s":"2019年","d":358,"v":4100},{"s":"2019年","d":362,"v":4070},{"s":"2019年","d":365,"v":4050},
{"s":"2020年","d":0,"v":4050},{"s":"2020年","d":4,"v":4020},{"s":"2020年","d":8,"v":4000},{"s":"2020年","d":12,"v":4050},{"s":"2020年","d":15,"v":4100},{"s":"2020年","d":20,"v":4000},{"s":"2020年","d":25,"v":3900},{"s":"2020年","d":29,"v":3870},{"s":"2020年","d":33,"v":3850},{"s":"2020年","d":36,"v":4100},{"s":"2020年","d":38,"v":4300},{"s":"2020年","d":43,"v":4320},{"s":"2020年","d":48,"v":4350},{"s":"2020年","d":53,"v":4320},{"s":"2020年","d":58,"v":4300},{"s":"2020年","d":63,"v":4280},{"s":"2020年","d":68,"v":4250},{"s":"2020年","d":73,"v":4280},{"s":"2020年","d":78,"v":4300},{"s":"2020年","d":83,"v":4250},{"s":"2020年","d":88,"v":4200},{"s":"2020年","d":93,"v":4180},{"s":"2020年","d":98,"v":4150},{"s":"2020年","d":103,"v":4180},{"s":"2020年","d":108,"v":4200},{"s":"2020年","d":113,"v":4150},{"s":"2020年","d":118,"v":4100},{"s":"2020年","d":123,"v":4130},{"s":"2020年","d":128,"v":4150},{"s":"2020年","d":133,"v":4120},{"s":"2020年","d":138,"v":4100},{"s":"2020年","d":143,"v":4080},{"s":"2020年","d":148,"v":4050},{"s":"2020年","d":153,"v":4080},{"s":"2020年","d":158,"v":4100},{"s":"2020年","d":162,"v":4000},{"s":"2020年","d":165,"v":3900},{"s":"2020年","d":168,"v":3850},{"s":"2020年","d":170,"v":3800},{"s":"2020年","d":173,"v":3780},{"s":"2020年","d":175,"v":3750},{"s":"2020年","d":179,"v":3820},{"s":"2020年","d":183,"v":3900},{"s":"2020年","d":186,"v":3950},{"s":"2020年","d":190,"v":4000},{"s":"2020年","d":194,"v":4050},{"s":"2020年","d":198,"v":4100},{"s":"2020年","d":201,"v":4120},{"s":"2020年","d":205,"v":4150},{"s":"2020年","d":209,"v":4180},{"s":"2020年","d":213,"v":4200},{"s":"2020年","d":216,"v":4100},{"s":"2020年","d":218,"v":4000},{"s":"2020年","d":221,"v":3850},{"s":"2020年","d":223,"v":3700},{"s":"2020年","d":228,"v":3680},{"s":"2020年","d":233,"v":3650},{"s":"2020年","d":238,"v":3620},{"s":"2020年","d":243,"v":3600},{"s":"2020年","d":248,"v":3580},{"s":"2020年","d":253,"v":3550},{"s":"2020年","d":256,"v":3520},{"s":"2020年","d":260,"v":3500},{"s":"2020年","d":264,"v":3500},{"s":"2020年","d":268,"v":3500},{"s":"2020年","d":271,"v":3520},{"s":"2020年","d":273,"v":3550},{"s":"2020年","d":274,"v":3900},{"s":"2020年","d":275,"v":4300},{"s":"2020年","d":279,"v":4320},{"s":"2020年","d":283,"v":4350},{"s":"2020年","d":288,"v":4380},{"s":"2020年","d":293,"v":4400},{"s":"2020年","d":298,"v":4450},{"s":"2020年","d":303,"v":4500},{"s":"2020年","d":308,"v":4450},{"s":"2020年","d":313,"v":4400},{"s":"2020年","d":318,"v":4420},{"s":"2020年","d":323,"v":4450},{"s":"2020年","d":326,"v":4400},{"s":"2020年","d":328,"v":4350},{"s":"2020年","d":332,"v":4380},{"s":"2020年","d":335,"v":4400},{"s":"2020年","d":339,"v":4500},{"s":"2020年","d":343,"v":4600},{"s":"2020年","d":347,"v":4620},{"s":"2020年","d":350,"v":4650},{"s":"2020年","d":354,"v":4650},{"s":"2020年","d":358,"v":4650}
]
},
"vconcat":[
{"spacing":17,"resolve":{"scale":{"x":"independent","y":"independent"}},"hconcat":[
 {"width":253,"height":1.5,"view":{"fill":"black","stroke":null},"data":{"values":[{"a":0,"b":1,"r":1}]},"mark":{"type":"rect","color":"black"},"encoding":{"x":{"field":"a","type":"quantitative","scale":{"domain":[0,1]},"axis":null},"x2":{"field":"b"},"y":{"field":"a","type":"quantitative","scale":{"domain":[0,1]},"axis":null},"y2":{"field":"b"}},
  "title":{"text":"▪图 4.1：05 基差季节性走势","anchor":"start","frame":"group","fontSize":9.5,"offset":9,"dx":-5}},
 {"width":253,"height":1.5,"view":{"fill":"black","stroke":null},"data":{"values":[{"a":0,"b":1,"r":2}]},"mark":{"type":"rect","color":"black"},"encoding":{"x":{"field":"a","type":"quantitative","scale":{"domain":[0,1]},"axis":null},"x2":{"field":"b"},"y":{"field":"a","type":"quantitative","scale":{"domain":[0,1]},"axis":null},"y2":{"field":"b"}},
  "title":{"text":"图 4.2：09 基差季节性走势","anchor":"start","frame":"group","fontSize":9.5,"offset":9,"dx":1}}
]},
{"spacing":7,"resolve":{"scale":{"x":"independent","y":"independent","color":"independent","strokeWidth":"independent"},"axis":{"x":"independent","y":"independent"},"legend":{"color":"independent"}},"hconcat":[
 {"width":238,"height":111,"layer":[
  {"data":{"values":[{}]},"mark":{"type":"rule","color":"#BFBFBF","strokeWidth":0.8},"encoding":{"y":{"datum":0,"type":"quantitative","scale":{"domain":[-2.5,2],"nice":false,"zero":false},"axis":{"values":[-2.5,-2,-1.5,-1,-0.5,0,0.5,1,1.5,2],"labelExpr":"''+datum.value","grid":false,"title":null,"labelFontSize":6,"labelColor":"#595959","domainColor":"#BFBFBF","tickColor":"#BFBFBF","tickSize":3,"labelPadding":2,"labelOverlap":false,"minExtent":17,"maxExtent":17}}}},
  {"data":{"name":"c1"},"mark":{"type":"line","strokeWidth":1.1},"encoding":{
   "x":{"field":"d","type":"quantitative","scale":{"domain":[0,365],"nice":false,"zero":false},"axis":{"values":[0,31,59,90,120,151,181,212,243,273,304,334],"labelExpr":"timeFormat(datetime(2021,0,1+datum.value),'%-m/%-d')","domain":false,"ticks":false,"grid":false,"title":null,"labelFontSize":6,"labelColor":"#595959","labelPadding":4,"labelFlush":false,"labelOverlap":false}},
   "y":{"field":"v","type":"quantitative","scale":{"domain":[-2.5,2],"nice":false,"zero":false},"axis":{"values":[-2.5,-2,-1.5,-1,-0.5,0,0.5,1,1.5,2],"labelExpr":"''+datum.value","grid":false,"title":null,"labelFontSize":6,"labelColor":"#595959","domainColor":"#BFBFBF","tickColor":"#BFBFBF","tickSize":3,"labelPadding":2,"labelOverlap":false,"minExtent":17,"maxExtent":17}},
   "color":{"field":"s","type":"nominal","scale":{"domain":["2014","2015","2016","2017","2018","2019","2020"],"range":["#5B9BD5","#ED7D31","#A5A5A5","#FFC000","#4472C4","#70AD47","#FF0000"]},"legend":{"orient":"bottom","direction":"horizontal","title":" ","titleOrient":"bottom","titleFontSize":4,"titlePadding":1,"symbolType":"stroke","symbolSize":121,"symbolStrokeWidth":1.5,"labelFontSize":6,"labelColor":"#595959","labelOffset":2,"columnPadding":3.5,"offset":2,"padding":0}},
   "strokeWidth":{"condition":{"test":"datum.s==='2020'","value":2},"value":1.1}}},
  {"data":{"values":[{}]},"mark":{"type":"text","fontSize":10.5,"fontWeight":"bold","color":"black"},"encoding":{
   "x":{"datum":166,"type":"quantitative","scale":{"domain":[0,365],"nice":false,"zero":false},"axis":{"values":[0,31,59,90,120,151,181,212,243,273,304,334],"labelExpr":"timeFormat(datetime(2021,0,1+datum.value),'%-m/%-d')","domain":false,"ticks":false,"grid":false,"title":null,"labelFontSize":6,"labelColor":"#595959","labelPadding":4,"labelFlush":false,"labelOverlap":false}},
   "y":{"datum":1.77,"type":"quantitative","scale":{"domain":[-2.5,2],"nice":false,"zero":false},"axis":{"values":[-2.5,-2,-1.5,-1,-0.5,0,0.5,1,1.5,2],"labelExpr":"''+datum.value","grid":false,"title":null,"labelFontSize":6,"labelColor":"#595959","domainColor":"#BFBFBF","tickColor":"#BFBFBF","tickSize":3,"labelPadding":2,"labelOverlap":false,"minExtent":17,"maxExtent":17}},
   "text":{"value":"05基差"}}}
 ]},
 {"width":235,"height":111,"layer":[
  {"data":{"values":[{}]},"mark":{"type":"rule","color":"#BFBFBF","strokeWidth":0.8},"encoding":{"y":{"datum":0,"type":"quantitative","scale":{"domain":[-2.5,1.5],"nice":false,"zero":false},"axis":{"values":[-2.5,-2,-1.5,-1,-0.5,0,0.5,1,1.5],"labelExpr":"''+datum.value","grid":false,"title":null,"labelFontSize":6,"labelColor":"#595959","domainColor":"#BFBFBF","tickColor":"#BFBFBF","tickSize":3,"labelPadding":2,"labelOverlap":false,"minExtent":13,"maxExtent":13}}}},
  {"data":{"name":"c2"},"mark":{"type":"line","strokeWidth":1.1},"encoding":{
   "x":{"field":"d","type":"quantitative","scale":{"domain":[0,365],"nice":false,"zero":false},"axis":{"values":[0,31,59,90,120,151,181,212,243,273,304,334],"labelExpr":"timeFormat(datetime(2021,0,1+datum.value),'%-m/%-d')","domain":false,"ticks":false,"grid":false,"title":null,"labelFontSize":6,"labelColor":"#595959","labelPadding":4,"labelFlush":false,"labelOverlap":false}},
   "y":{"field":"v","type":"quantitative","scale":{"domain":[-2.5,1.5],"nice":false,"zero":false},"axis":{"values":[-2.5,-2,-1.5,-1,-0.5,0,0.5,1,1.5],"labelExpr":"''+datum.value","grid":false,"title":null,"labelFontSize":6,"labelColor":"#595959","domainColor":"#BFBFBF","tickColor":"#BFBFBF","tickSize":3,"labelPadding":2,"labelOverlap":false,"minExtent":13,"maxExtent":13}},
   "color":{"field":"s","type":"nominal","scale":{"domain":["2014","2015","2016","2017","2018","2019","2020"],"range":["#5B9BD5","#ED7D31","#A5A5A5","#FFC000","#4472C4","#70AD47","#FF0000"]},"legend":{"orient":"bottom","direction":"horizontal","title":" ","titleOrient":"bottom","titleFontSize":4,"titlePadding":1,"symbolType":"stroke","symbolSize":121,"symbolStrokeWidth":1.5,"labelFontSize":6,"labelColor":"#595959","labelOffset":2,"columnPadding":3.5,"offset":1,"padding":0}},
   "strokeWidth":{"condition":{"test":"datum.s==='2020'","value":2},"value":1.1}}},
  {"data":{"values":[{}]},"mark":{"type":"text","fontSize":10.5,"fontWeight":"bold","color":"black"},"encoding":{
   "x":{"datum":161,"type":"quantitative","scale":{"domain":[0,365],"nice":false,"zero":false},"axis":{"values":[0,31,59,90,120,151,181,212,243,273,304,334],"labelExpr":"timeFormat(datetime(2021,0,1+datum.value),'%-m/%-d')","domain":false,"ticks":false,"grid":false,"title":null,"labelFontSize":6,"labelColor":"#595959","labelPadding":4,"labelFlush":false,"labelOverlap":false}},
   "y":{"datum":1.3,"type":"quantitative","scale":{"domain":[-2.5,1.5],"nice":false,"zero":false},"axis":{"values":[-2.5,-2,-1.5,-1,-0.5,0,0.5,1,1.5],"labelExpr":"''+datum.value","grid":false,"title":null,"labelFontSize":6,"labelColor":"#595959","domainColor":"#BFBFBF","tickColor":"#BFBFBF","tickSize":3,"labelPadding":2,"labelOverlap":false,"minExtent":13,"maxExtent":13}},
   "text":{"value":"09基差"}}}
 ]}
]},
{"spacing":17,"resolve":{"scale":{"x":"independent","y":"independent"}},"hconcat":[
 {"width":253,"height":1.5,"view":{"fill":"black","stroke":null},"data":{"values":[{"a":0,"b":1,"r":3}]},"mark":{"type":"rect","color":"black"},"encoding":{"x":{"field":"a","type":"quantitative","scale":{"domain":[0,1]},"axis":null},"x2":{"field":"b"},"y":{"field":"a","type":"quantitative","scale":{"domain":[0,1]},"axis":null},"y2":{"field":"b"}},
  "title":{"text":"·","anchor":"start","frame":"group","fontSize":1,"color":"transparent","offset":0}},
 {"width":253,"height":1.5,"view":{"fill":"black","stroke":null},"data":{"values":[{"a":0,"b":1,"r":4}]},"mark":{"type":"rect","color":"black"},"encoding":{"x":{"field":"a","type":"quantitative","scale":{"domain":[0,1]},"axis":null},"x2":{"field":"b"},"y":{"field":"a","type":"quantitative","scale":{"domain":[0,1]},"axis":null},"y2":{"field":"b"}},
  "title":{"text":"·","anchor":"start","frame":"group","fontSize":1,"color":"transparent","offset":0}}
]},
{"spacing":17,"resolve":{"scale":{"x":"independent","y":"independent"}},"hconcat":[
 {"width":253,"height":8.5,"data":{"values":[{"a":0,"b":1,"r":5}]},"mark":{"type":"rect","color":"black","opacity":0},"encoding":{"x":{"field":"a","type":"quantitative","scale":{"domain":[0,1]},"axis":null},"x2":{"field":"b"},"y":{"field":"a","type":"quantitative","scale":{"domain":[0,1]},"axis":null},"y2":{"field":"b"}}},
 {"width":253,"height":8.5,"data":{"values":[{"a":0,"b":1,"r":6}]},"mark":{"type":"rect","color":"black","opacity":0},"encoding":{"x":{"field":"a","type":"quantitative","scale":{"domain":[0,1]},"axis":null},"x2":{"field":"b"},"y":{"field":"a","type":"quantitative","scale":{"domain":[0,1]},"axis":null},"y2":{"field":"b"}}}
]},
{"spacing":17,"resolve":{"scale":{"x":"independent","y":"independent"}},"hconcat":[
 {"width":253,"height":1.5,"view":{"fill":"black","stroke":null},"data":{"values":[{"a":0,"b":1,"r":7}]},"mark":{"type":"rect","color":"black"},"encoding":{"x":{"field":"a","type":"quantitative","scale":{"domain":[0,1]},"axis":null},"x2":{"field":"b"},"y":{"field":"a","type":"quantitative","scale":{"domain":[0,1]},"axis":null},"y2":{"field":"b"}},
  "title":{"text":["资料来源：Wind，一德生鲜品事业部","▪图 4.3：5-9 价差走势（剔除盘面 250 元包装费）"],"anchor":"start","frame":"group","fontSize":9.5,"lineHeight":23,"offset":6,"dx":-4}},
 {"width":253,"height":1.5,"view":{"fill":"black","stroke":null},"data":{"values":[{"a":0,"b":1,"r":8}]},"mark":{"type":"rect","color":"black"},"encoding":{"x":{"field":"a","type":"quantitative","scale":{"domain":[0,1]},"axis":null},"x2":{"field":"b"},"y":{"field":"a","type":"quantitative","scale":{"domain":[0,1]},"axis":null},"y2":{"field":"b"}},
  "title":{"text":["资料来源：Wind，一德生鲜品事业部","图 4.4：9 合约价格季节性走势（考虑 2109 不包含包装费）"],"anchor":"start","frame":"group","fontSize":9.5,"lineHeight":23,"offset":6,"dx":1}}
]},
{"spacing":17,"resolve":{"scale":{"x":"independent","y":"independent"}},"hconcat":[
 {"width":253,"height":1.5,"data":{"values":[{"a":0,"b":1,"r":9}]},"mark":{"type":"rect","color":"black","opacity":0},"encoding":{"x":{"field":"a","type":"quantitative","scale":{"domain":[0,1]},"axis":null},"x2":{"field":"b"},"y":{"field":"a","type":"quantitative","scale":{"domain":[0,1]},"axis":null},"y2":{"field":"b"}}},
 {"width":253,"height":1.5,"data":{"values":[{"a":0,"b":1,"r":10}]},"mark":{"type":"rect","color":"black","opacity":0},"encoding":{"x":{"field":"a","type":"quantitative","scale":{"domain":[0,1]},"axis":null},"x2":{"field":"b"},"y":{"field":"a","type":"quantitative","scale":{"domain":[0,1]},"axis":null},"y2":{"field":"b"}}}
]},
{"spacing":9,"resolve":{"scale":{"x":"independent","y":"independent","color":"independent","strokeWidth":"independent"},"axis":{"x":"independent","y":"independent"},"legend":{"color":"independent"}},"hconcat":[
 {"width":214,"height":89,"title":{"text":"5-9价差","fontSize":9.5,"fontWeight":"bold","anchor":"middle","frame":"group","offset":6,"dx":-2},
  "data":{"name":"c3"},"mark":{"type":"line","strokeWidth":1.1},"encoding":{
   "x":{"field":"d","type":"quantitative","scale":{"domain":[0,214],"nice":false,"zero":false},"axis":{"values":[6,37,67,98,129,157,188],"labelExpr":"timeFormat(datetime(2020,9,1+datum.value),'%-m月%-d日')","domainColor":"#BFBFBF","ticks":false,"grid":false,"title":null,"labelFontSize":5.5,"labelColor":"#595959","labelPadding":2,"labelFlush":false,"labelOverlap":false}},
   "y":{"field":"v","type":"quantitative","scale":{"domain":[-1800,0],"nice":false,"zero":false},"axis":{"values":[-1800,-1600,-1400,-1200,-1000,-800,-600,-400,-200,0],"labelExpr":"''+datum.value","grid":false,"title":null,"labelFontSize":5.5,"labelColor":"#595959","domainColor":"#BFBFBF","tickColor":"#BFBFBF","tickSize":2,"labelPadding":2,"labelOverlap":false,"minExtent":21,"maxExtent":21}},
   "color":{"field":"s","type":"nominal","scale":{"domain":["14-15","15-16","16-17","17-18","18-19","19-20","20-21"],"range":["#5B9BD5","#ED7D31","#A5A5A5","#FFC000","#4472C4","#70AD47","#FF0000"]},"legend":{"orient":"bottom","direction":"horizontal","title":" ","titleOrient":"bottom","titleFontSize":4,"titlePadding":3.5,"symbolType":"stroke","symbolSize":110,"symbolStrokeWidth":1.5,"labelFontSize":6,"labelColor":"#595959","labelOffset":2,"columnPadding":1.8,"offset":9,"padding":0}},
   "strokeWidth":{"condition":{"test":"datum.s==='20-21'","value":2},"value":1.1}}},
 {"width":243,"height":85,"title":{"text":"09合约价格（考虑2109不包含包装费）","fontSize":7.5,"color":"#595959","anchor":"middle","frame":"group","offset":8,"dx":-6},
  "data":{"name":"c4"},"mark":{"type":"line","strokeWidth":1.1},"encoding":{
   "x":{"field":"d","type":"quantitative","scale":{"domain":[0,365],"nice":false,"zero":false},"axis":{"values":[0,8,16,24,32,40,48,56,64,72,80,88,96,104,112,120,128,136,144,152,160,168,176,184,192,200,208,216,224,232,240,248,256,264,272,280,288,296,304,312,320,328,336,344,352,360],"labelExpr":"[timeFormat(datetime(2021,0,2+datum.value),'%-m'),'月',timeFormat(datetime(2021,0,2+datum.value),'%-d'),'日']","labelLineHeight":4.6,"labelBaseline":"top","domainColor":"#D9D9D9","ticks":false,"grid":false,"title":null,"labelFontSize":4.3,"labelColor":"#595959","labelPadding":2,"labelFlush":false,"labelOverlap":false}},
   "y":{"field":"v","type":"quantitative","scale":{"domain":[3000,6000],"nice":false,"zero":false},"axis":{"values":[3000,3500,4000,4500,5000,5500,6000],"labelExpr":"''+datum.value","grid":false,"domain":false,"ticks":false,"title":null,"labelFontSize":4.5,"labelColor":"#595959","labelPadding":2,"labelOverlap":false,"minExtent":12,"maxExtent":12}},
   "color":{"field":"s","type":"nominal","scale":{"domain":["2014年","2015年","2016年","2017年","2018年","2019年","2020年"],"range":["#4F81BD","#C0504D","#9BBB59","#8064A2","#4BACC6","#F79646","#2C4D75"]},"legend":{"orient":"bottom","direction":"horizontal","title":" ","titleOrient":"bottom","titleFontSize":4,"titlePadding":1,"symbolType":"stroke","symbolSize":81,"symbolStrokeWidth":1.5,"labelFontSize":4.5,"labelColor":"#595959","labelOffset":2,"columnPadding":0.5,"offset":0,"padding":0}},
   "strokeWidth":{"value":1.1}}}
]},
{"spacing":17,"resolve":{"scale":{"x":"independent","y":"independent"}},"hconcat":[
 {"width":253,"height":1.5,"view":{"fill":"black","stroke":null},"data":{"values":[{"a":0,"b":1,"r":11}]},"mark":{"type":"rect","color":"black"},"encoding":{"x":{"field":"a","type":"quantitative","scale":{"domain":[0,1]},"axis":null},"x2":{"field":"b"},"y":{"field":"a","type":"quantitative","scale":{"domain":[0,1]},"axis":null},"y2":{"field":"b"}},
  "title":{"text":"·","anchor":"start","frame":"group","fontSize":1,"color":"transparent","offset":0}},
 {"width":253,"height":1.5,"view":{"fill":"black","stroke":null},"data":{"values":[{"a":0,"b":1,"r":12}]},"mark":{"type":"rect","color":"black"},"encoding":{"x":{"field":"a","type":"quantitative","scale":{"domain":[0,1]},"axis":null},"x2":{"field":"b"},"y":{"field":"a","type":"quantitative","scale":{"domain":[0,1]},"axis":null},"y2":{"field":"b"}},
  "title":{"text":"·","anchor":"start","frame":"group","fontSize":1,"color":"transparent","offset":0}}
]},
{"spacing":17,"resolve":{"scale":{"x":"independent","y":"independent"}},"hconcat":[
 {"width":253,"height":6.5,"data":{"values":[{"a":0,"b":1,"r":13}]},"mark":{"type":"rect","color":"black","opacity":0},"encoding":{"x":{"field":"a","type":"quantitative","scale":{"domain":[0,1]},"axis":null},"x2":{"field":"b"},"y":{"field":"a","type":"quantitative","scale":{"domain":[0,1]},"axis":null},"y2":{"field":"b"}}},
 {"width":253,"height":6.5,"data":{"values":[{"a":0,"b":1,"r":14}]},"mark":{"type":"rect","color":"black","opacity":0},"encoding":{"x":{"field":"a","type":"quantitative","scale":{"domain":[0,1]},"axis":null},"x2":{"field":"b"},"y":{"field":"a","type":"quantitative","scale":{"domain":[0,1]},"axis":null},"y2":{"field":"b"}}}
]},
{"spacing":17,"resolve":{"scale":{"x":"independent","y":"independent"}},"hconcat":[
 {"width":253,"height":1,"data":{"values":[{"a":0,"b":1,"r":15}]},"mark":{"type":"rect","color":"black","opacity":0},"encoding":{"x":{"field":"a","type":"quantitative","scale":{"domain":[0,1]},"axis":null},"x2":{"field":"b"},"y":{"field":"a","type":"quantitative","scale":{"domain":[0,1]},"axis":null},"y2":{"field":"b"}},
  "title":{"text":"资料来源：Wind，一德生鲜品事业部","anchor":"start","frame":"group","fontSize":9.5,"offset":0,"dx":0}},
 {"width":253,"height":1,"data":{"values":[{"a":0,"b":1,"r":16}]},"mark":{"type":"rect","color":"black","opacity":0},"encoding":{"x":{"field":"a","type":"quantitative","scale":{"domain":[0,1]},"axis":null},"x2":{"field":"b"},"y":{"field":"a","type":"quantitative","scale":{"domain":[0,1]},"axis":null},"y2":{"field":"b"}},
  "title":{"text":"资料来源：Wind，一德生鲜品事业部","anchor":"start","frame":"group","fontSize":9.5,"offset":0,"dx":1}}
]}
]
}
